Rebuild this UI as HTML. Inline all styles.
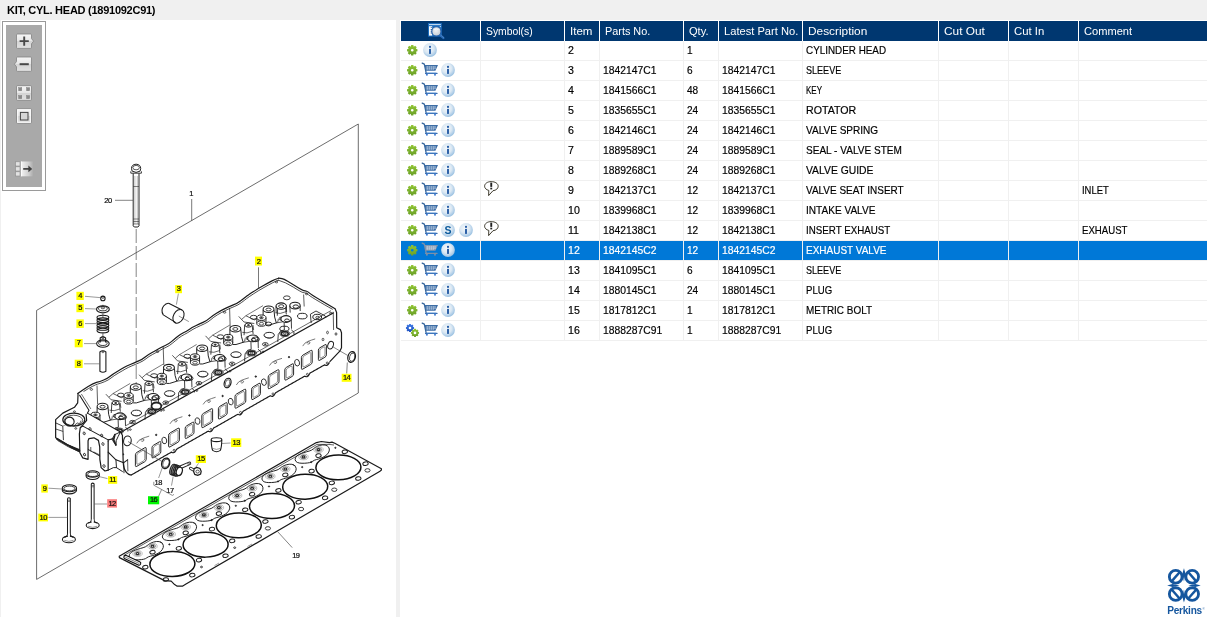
<!DOCTYPE html>
<html><head><meta charset="utf-8"><title>KIT, CYL. HEAD</title>
<style>
html,body{margin:0;padding:0;}
#title,#left,#hdr,.row,#logo{will-change:transform;}
body{width:1207px;height:617px;overflow:hidden;background:#f0f0f0;position:relative;font-family:"Liberation Sans",sans-serif;font-size:10.6px;color:#000;}
#title{position:absolute;left:6.7px;top:3px;font-weight:bold;font-size:11px;line-height:14px;white-space:nowrap;letter-spacing:-0.26px;}
#left{position:absolute;left:1px;top:20px;width:395px;height:597px;background:#fff;overflow:hidden;}
#left svg{position:absolute;left:-1px;top:-20px;}
#right{position:absolute;left:400px;top:20px;width:807px;height:597px;background:#fff;}
#hdr{position:absolute;left:0;top:21px;height:20px;width:1207px;}
.hc{position:absolute;top:0;height:20px;background:#003770;color:#fff;line-height:20px;white-space:nowrap;overflow:hidden;}
.hc span{position:absolute;left:5px;top:0;transform-origin:0 50%;}
.row{position:absolute;left:401px;width:806px;height:19px;border-bottom:1px solid #f0f0f0;}
.row.sel{background:#0078d7;color:#fff;}
.c{position:absolute;top:0;height:19px;border-right:1px solid #f0f0f0;line-height:19px;white-space:nowrap;overflow:hidden;}
.c:last-child{border-right:none;}
.c span{position:absolute;left:3px;top:0;-webkit-text-stroke:0.18px currentColor;transform-origin:0 50%;}
.ic{position:absolute;overflow:visible;}
#tb{position:absolute;left:2px;top:21px;width:42px;height:168px;border:1px solid #9a9a9a;background:#fff;}
#tb .in{position:absolute;left:3px;top:3px;width:36px;height:162px;background:#a9a9a9;}
.btn{position:absolute;left:14px;width:15px;height:15px;border-radius:2px;background:linear-gradient(#fafafa,#e4e4e4 45%,#d2d2d2 55%,#e6e6e6);box-shadow:0 0 0 0.5px #8a8a8a;}
#logo{position:absolute;left:1160px;top:562px;}

</style></head><body>
<svg width="0" height="0" style="position:absolute"><defs>
<linearGradient id="gg" x1="0" y1="0" x2="0" y2="1"><stop offset="0" stop-color="#90c534"/><stop offset="1" stop-color="#6a9f27"/></linearGradient>
<linearGradient id="gb" x1="0" y1="0" x2="0" y2="1"><stop offset="0" stop-color="#3f7be6"/><stop offset="1" stop-color="#1c4fc0"/></linearGradient>
<radialGradient id="ig" cx="0.42" cy="0.38" r="0.62"><stop offset="0" stop-color="#f3f8fc"/><stop offset="0.55" stop-color="#dbe8f3"/><stop offset="0.85" stop-color="#b3d0e9"/><stop offset="1" stop-color="#9cc2e2"/></radialGradient>
<radialGradient id="lg" cx="0.45" cy="0.4" r="0.6"><stop offset="0" stop-color="#eef1f4"/><stop offset="1" stop-color="#c5ccd4"/></radialGradient>
<symbol id="gear" overflow="visible"><g transform="translate(5.25 5.25)">
<path fill="url(#gg)" fill-rule="evenodd" d="M-1.50 -3.60 L-1.06 -5.20 L1.06 -5.20 L1.50 -3.60 L1.48 -3.61 L2.93 -4.43 L4.43 -2.93 L3.61 -1.48 L3.60 -1.50 L5.20 -1.06 L5.20 1.06 L3.60 1.50 L3.61 1.48 L4.43 2.93 L2.93 4.43 L1.48 3.61 L1.50 3.60 L1.06 5.20 L-1.06 5.20 L-1.50 3.60 L-1.48 3.61 L-2.93 4.43 L-4.43 2.93 L-3.61 1.48 L-3.60 1.50 L-5.20 1.06 L-5.20 -1.06 L-3.60 -1.50 L-3.61 -1.48 L-4.43 -2.93 L-2.93 -4.43 L-1.48 -3.61 Z M1.35 0 A1.35 1.35 0 1 0 -1.35 0 A1.35 1.35 0 1 0 1.35 0 Z"/>
</g></symbol>
<symbol id="gear2" overflow="visible">
<g transform="translate(6 6) scale(0.78)"><path fill="url(#gb)" fill-rule="evenodd" d="M-1.50 -3.60 L-1.06 -5.20 L1.06 -5.20 L1.50 -3.60 L1.48 -3.61 L2.93 -4.43 L4.43 -2.93 L3.61 -1.48 L3.60 -1.50 L5.20 -1.06 L5.20 1.06 L3.60 1.50 L3.61 1.48 L4.43 2.93 L2.93 4.43 L1.48 3.61 L1.50 3.60 L1.06 5.20 L-1.06 5.20 L-1.50 3.60 L-1.48 3.61 L-2.93 4.43 L-4.43 2.93 L-3.61 1.48 L-3.60 1.50 L-5.20 1.06 L-5.20 -1.06 L-3.60 -1.50 L-3.61 -1.48 L-4.43 -2.93 L-2.93 -4.43 L-1.48 -3.61 Z M1.70 0 A1.70 1.70 0 1 0 -1.70 0 A1.70 1.70 0 1 0 1.70 0 Z"/></g>
<g transform="translate(11 10.9) scale(0.78)"><path fill="url(#gg)" fill-rule="evenodd" d="M-1.50 -3.60 L-1.06 -5.20 L1.06 -5.20 L1.50 -3.60 L1.48 -3.61 L2.93 -4.43 L4.43 -2.93 L3.61 -1.48 L3.60 -1.50 L5.20 -1.06 L5.20 1.06 L3.60 1.50 L3.61 1.48 L4.43 2.93 L2.93 4.43 L1.48 3.61 L1.50 3.60 L1.06 5.20 L-1.06 5.20 L-1.50 3.60 L-1.48 3.61 L-2.93 4.43 L-4.43 2.93 L-3.61 1.48 L-3.60 1.50 L-5.20 1.06 L-5.20 -1.06 L-3.60 -1.50 L-3.61 -1.48 L-4.43 -2.93 L-2.93 -4.43 L-1.48 -3.61 Z M1.70 0 A1.70 1.70 0 1 0 -1.70 0 A1.70 1.70 0 1 0 1.70 0 Z"/></g>
</symbol>
<symbol id="cart" overflow="visible">
<path d="M0.2 1.1 L2.3 2.2 L4.3 11.6" fill="none" stroke="#38679e" stroke-width="1.3" stroke-linecap="round" stroke-linejoin="round"/>
<path d="M2.6 3 H16 L13.4 8.7 H4 Z" fill="#3c6ca4"/>
<path d="M3.8 4.2 H14.6 M4 5.9 H13.9 M4.3 7.5 H13.2" stroke="#3c6ca4" stroke-width="0.01"/>
<g fill="#e9f0f8"><rect x="4.6" y="4.3" width="1.1" height="3.3"/><rect x="6.6" y="4.3" width="1.1" height="3.3"/><rect x="8.6" y="4.3" width="1.1" height="3.3"/><rect x="10.6" y="4.3" width="1.1" height="3.3"/><rect x="12.5" y="4.3" width="1" height="2.8"/></g>
<path d="M4.1 5.9 H14.2" stroke="#3c6ca4" stroke-width="0.5"/>
<path d="M3.6 11.4 H15" stroke="#3a6db0" stroke-width="1.3" stroke-linecap="round"/>
<path d="M4.5 10.9 H14" stroke="#5aa0e8" stroke-width="0.5"/>
<circle cx="4.9" cy="12.7" r="0.95" fill="#3a78d0"/><circle cx="13" cy="12.7" r="0.95" fill="#3a78d0"/>
</symbol>
<symbol id="carts" overflow="visible">
<path d="M0.2 1.1 L2.3 2.2 L4.3 11.6" fill="none" stroke="#7b8fa8" stroke-width="1.3" stroke-linecap="round" stroke-linejoin="round"/>
<path d="M2.6 3 H16 L13.4 8.7 H4 Z" fill="#8296ae"/>
<g fill="#e4eaf2"><rect x="4.6" y="4.3" width="1.1" height="3.3"/><rect x="6.6" y="4.3" width="1.1" height="3.3"/><rect x="8.6" y="4.3" width="1.1" height="3.3"/><rect x="10.6" y="4.3" width="1.1" height="3.3"/><rect x="12.5" y="4.3" width="1" height="2.8"/></g>
<path d="M4.1 5.9 H14.2" stroke="#8296ae" stroke-width="0.5"/>
<path d="M3.6 11.4 H15" stroke="#7b8fa8" stroke-width="1.3" stroke-linecap="round"/>
<circle cx="4.9" cy="12.7" r="0.95" fill="#7b8fa8"/><circle cx="13" cy="12.7" r="0.95" fill="#7b8fa8"/>
</symbol>
<symbol id="info" overflow="visible">
<circle cx="7" cy="7" r="6.9" fill="url(#ig)"/>
<rect x="6" y="5.9" width="2" height="5" fill="#2d61a8"/><rect x="6" y="2.9" width="2" height="1.9" fill="#2d61a8"/>
</symbol>
<symbol id="sico" overflow="visible">
<circle cx="7" cy="7" r="6.9" fill="url(#ig)"/>
<text x="7" y="10.6" text-anchor="middle" font-family="Liberation Sans, sans-serif" font-weight="bold" font-size="10.5" fill="#0b5a9c">S</text>
</symbol>
<symbol id="bub" overflow="visible">
<path d="M7.2 0.6 C11.2 0.6 14.2 2.6 14.2 5.2 C14.2 7.6 12 9.4 9 9.7 L4.6 14.6 L4.8 9.4 C2.2 8.8 0.6 7.2 0.6 5.2 C0.6 2.6 3.4 0.6 7.2 0.6 Z" fill="#fff" stroke="#2a2718" stroke-width="0.9" stroke-linejoin="round"/>
<rect x="6.3" y="1.6" width="1.9" height="4.3" fill="#222"/><rect x="6.3" y="6.7" width="1.9" height="1.7" fill="#222"/>
</symbol>
<symbol id="mag" overflow="visible">
<rect x="0" y="0" width="13.8" height="13.6" fill="#1b6cbd"/>
<rect x="1" y="1.2" width="11.8" height="0.9" fill="#e8f2fb"/>
<rect x="1" y="3.2" width="3.2" height="9.4" fill="#f4f8fc"/>
<path d="M3.3 4.2 v0.9 M3.3 6 v0.9 M3.3 7.8 v0.9 M3.3 9.6 v0.9" stroke="#1b4f94" stroke-width="1.1"/>
<rect x="11.8" y="3.1" width="1" height="1" fill="#e8f2fb"/>
<path d="M11.6 11.6 L15.4 15" stroke="#2a6cb8" stroke-width="2.3" stroke-linecap="round"/>
<path d="M12.6 11.8 L15.6 14.4" stroke="#8fb8e6" stroke-width="0.6" stroke-dasharray="0.8 0.8"/>
<circle cx="8.4" cy="8.4" r="4.6" fill="url(#lg)" stroke="#235fa8" stroke-width="1.1"/>
<path d="M6.3 6.6 q2.2 -1.6 4.2 0" stroke="#fff" stroke-width="0.9" fill="none"/>
</symbol>
</defs></svg>
<div id="title">KIT, CYL. HEAD (1891092C91)</div>
<div id="left">
<svg width="397" height="617" viewBox="0 0 397 617">
<style>.lb{font-family:"Liberation Sans",sans-serif;font-size:7.5px;fill:#111;letter-spacing:-0.5px;stroke:#111;stroke-width:0.22px;}</style>
<path d="M36.6 310.4 L358.3 124 L358.3 393 L36.6 579.4 Z" fill="none" stroke="#3a3a3a" stroke-width="0.744" />
<path d="M131.5 168.5 q0 -4 4.6 -4.3 q4.6 0.3 4.6 4.3 l-0.6 2.6 q-4 2.6 -8 0 z" fill="none" stroke="#1a1a1a" stroke-width="0.96" />
<ellipse cx="136.1" cy="167.6" rx="3.3" ry="2.2" fill="none" stroke="#1a1a1a" stroke-width="0.72"/>
<path d="M130.8 171.3 L130.8 173.2 L141.4 173.2 L141.4 171.3" fill="none" stroke="#1a1a1a" stroke-width="0.84" />
<path d="M133.2 173.4 L133.2 225.8 L134.3 227 L137.9 227 L139 225.8 L139 173.4" fill="none" stroke="#1a1a1a" stroke-width="0.96" />
<line x1="134.9" y1="176" x2="134.9" y2="224" stroke="#777" stroke-width="0.48" />
<line x1="137.3" y1="176" x2="137.3" y2="224" stroke="#777" stroke-width="0.48" />
<line x1="133.2" y1="186.5" x2="139" y2="186.5" stroke="#333" stroke-width="0.6" />
<line x1="133.2" y1="219" x2="139" y2="219" stroke="#333" stroke-width="0.6" />
<line x1="133.2" y1="221.5" x2="139" y2="221.5" stroke="#333" stroke-width="0.6" />
<line x1="133.2" y1="224" x2="139" y2="224" stroke="#333" stroke-width="0.6" />
<line x1="115" y1="200.3" x2="133" y2="200.3" stroke="#555" stroke-width="0.72" />
<text x="104.3" y="203.2" class="lb">20</text>
<line x1="136.2" y1="229" x2="136.2" y2="384" stroke="#555" stroke-width="0.72" stroke-dasharray="14 3"/>
<text x="189.3" y="196" class="lb">1</text>
<line x1="191.7" y1="199" x2="191.7" y2="220.7" stroke="#444" stroke-width="0.72" />
<ellipse cx="102.9" cy="298.4" rx="2.2" ry="2.3" fill="none" stroke="#1a1a1a" stroke-width="1.08"/>
<ellipse cx="102.9" cy="297.6" rx="1.2" ry="0.8" fill="none" stroke="#1a1a1a" stroke-width="0.6"/>
<line x1="85" y1="296.3" x2="100" y2="297.6" stroke="#555" stroke-width="0.6" />
<ellipse cx="102.9" cy="309.3" rx="6.4" ry="3.6" fill="none" stroke="#1a1a1a" stroke-width="1.08"/>
<ellipse cx="102.9" cy="308.6" rx="4.4" ry="2.2" fill="none" stroke="#1a1a1a" stroke-width="0.84"/>
<ellipse cx="102.9" cy="307.8" rx="1.8" ry="1" fill="none" stroke="#1a1a1a" stroke-width="0.72"/>
<line x1="102.9" y1="304.8" x2="102.9" y2="307.5" stroke="#333" stroke-width="0.72" />
<line x1="85" y1="308.6" x2="96.3" y2="309" stroke="#555" stroke-width="0.6" />
<ellipse cx="102.9" cy="317.6" rx="5.9" ry="2.3" fill="none" stroke="#1a1a1a" stroke-width="1.08"/>
<ellipse cx="102.9" cy="320.2" rx="5.9" ry="2.3" fill="none" stroke="#1a1a1a" stroke-width="1.08"/>
<ellipse cx="102.9" cy="322.8" rx="5.9" ry="2.3" fill="none" stroke="#1a1a1a" stroke-width="1.08"/>
<ellipse cx="102.9" cy="325.4" rx="5.9" ry="2.3" fill="none" stroke="#1a1a1a" stroke-width="1.08"/>
<ellipse cx="102.9" cy="328" rx="5.9" ry="2.3" fill="none" stroke="#1a1a1a" stroke-width="1.08"/>
<ellipse cx="102.9" cy="330.6" rx="5.9" ry="2.3" fill="none" stroke="#1a1a1a" stroke-width="1.08"/>
<line x1="102.9" y1="313.8" x2="102.9" y2="318" stroke="#333" stroke-width="0.72" />
<line x1="85" y1="323.6" x2="96.5" y2="323.6" stroke="#555" stroke-width="0.6" />
<ellipse cx="102.9" cy="343.6" rx="6.3" ry="3.7" fill="none" stroke="#1a1a1a" stroke-width="1.08"/>
<ellipse cx="102.9" cy="343.2" rx="4.3" ry="2.3" fill="none" stroke="#1a1a1a" stroke-width="0.84"/>
<path d="M100.2 342.5 v-4.6 q2.7 -2 5.4 0 v4.6" fill="none" stroke="#1a1a1a" stroke-width="1.08" />
<ellipse cx="102.9" cy="337.6" rx="1.4" ry="0.9" fill="none" stroke="#1a1a1a" stroke-width="0.72"/>
<line x1="102.9" y1="333.4" x2="102.9" y2="336.5" stroke="#333" stroke-width="0.72" />
<line x1="84" y1="343.6" x2="96.3" y2="343.6" stroke="#555" stroke-width="0.6" />
<path d="M99.9 352 q3 -2.4 6 0 v19.3 q-3 2 -6 0 z" fill="none" stroke="#1a1a1a" stroke-width="1.08" />
<ellipse cx="102.9" cy="352" rx="1.2" ry="0.7" fill="none" stroke="#1a1a1a" stroke-width="0.6"/>
<line x1="84" y1="363.8" x2="99.8" y2="363.8" stroke="#555" stroke-width="0.6" />
<rect x="76.4" y="291.8" width="7.4" height="8.2" fill="#ffff00"/>
<text x="80.1" y="298.15" text-anchor="middle" class="lb">4</text>
<rect x="76.4" y="303.8" width="7.4" height="8.4" fill="#ffff00"/>
<text x="80.1" y="310.35" text-anchor="middle" class="lb">5</text>
<rect x="76.4" y="319.4" width="7.4" height="8.5" fill="#ffff00"/>
<text x="80.1" y="326.05" text-anchor="middle" class="lb">6</text>
<rect x="74.7" y="339" width="8" height="8.3" fill="#ffff00"/>
<text x="78.7" y="345.45" text-anchor="middle" class="lb">7</text>
<rect x="74.7" y="359.7" width="8" height="8.3" fill="#ffff00"/>
<text x="78.7" y="366.15" text-anchor="middle" class="lb">8</text>
<path d="M163.3 314.9 Q160.4 310.4 163.6 306 Q166.4 302.6 169.2 303.4 L182 310 M163.3 314.9 L175.8 322.6" fill="none" stroke="#1a1a1a" stroke-width="1.08" />
<ellipse cx="178.5" cy="316.3" rx="5" ry="7.3" fill="none" stroke="#1a1a1a" stroke-width="1.08" transform="rotate(28 178.5 316.3)"/>
<line x1="178.8" y1="316" x2="188.8" y2="321.6" stroke="#444" stroke-width="0.6" />
<line x1="178.4" y1="293.5" x2="176.4" y2="304.6" stroke="#555" stroke-width="0.6" />
<rect x="175.2" y="285.1" width="6.8" height="8.1" fill="#ffff00"/>
<text x="178.6" y="291.35" text-anchor="middle" class="lb">3</text>
<path d="M77.8 393.5 Q83 389.6 88.15 386.45 Q93.3 383.3 96.55 382.45 Q99.8 381.6 103.7 380 Q107.6 378.4 110.2 376.25 Q112.8 374.1 117.3 371.5 Q121.8 368.9 124.4 367.35 Q127 365.8 130.9 364.2 Q134.8 362.6 138.7 360.9 Q142.6 359.2 145.2 357 Q147.8 354.8 151.65 352.75 Q155.5 350.7 158.75 348.85 Q162 347 165.25 345.55 Q168.5 344.1 171.75 341.35 Q175 338.6 177.6 336.5 Q180.2 334.4 183.4 332.8 Q186.6 331.2 189.2 329.4 Q191.8 327.6 195.7 325.75 Q199.6 323.9 203.5 322.1 Q207.4 320.3 210 317.9 Q212.6 315.5 216.5 313.15 Q220.4 310.8 224.9 308.6 Q229.4 306.4 233.3 304.9 Q237.2 303.4 240.45 300.95 Q243.7 298.5 245.65 296.95 Q247.6 295.4 252.75 292.05 Q257.9 288.7 263.1 285.8 Q268.3 282.9 271.55 281.15 Q274.8 279.4 278.6 278.2 " fill="none" stroke="#1a1a1a" stroke-width="1.2" stroke-linejoin="round" stroke-linecap="round"/>
<path d="M278.6 278.2 Q282.5 278.6 284.3 279.4 Q286.1 280.2 294.2 285.35 Q302.3 290.5 303.75 290.7 Q305.2 290.9 306.55 291.25 Q307.9 291.6 309.55 293.15 Q311.2 294.7 321.1 300.5 Q331 306.3 334.7 308.5 " fill="none" stroke="#1a1a1a" stroke-width="1.2" stroke-linejoin="round" stroke-linecap="round"/>
<path d="M83.9 391.3 Q94.2 385 97.45 384.15 Q100.7 383.3 104.6 381.7 Q108.5 380.1 111.1 377.95 Q113.7 375.8 118.2 373.2 Q122.7 370.6 125.3 369.05 Q127.9 367.5 131.8 365.9 Q135.7 364.3 139.6 362.6 Q143.5 360.9 146.1 358.7 Q148.7 356.5 152.55 354.45 Q156.4 352.4 159.65 350.55 Q162.9 348.7 166.15 347.25 Q169.4 345.8 172.65 343.05 Q175.9 340.3 178.5 338.2 Q181.1 336.1 184.3 334.5 Q187.5 332.9 190.1 331.1 Q192.7 329.3 196.6 327.45 Q200.5 325.6 204.4 323.8 Q208.3 322 210.9 319.6 Q213.5 317.2 217.4 314.85 Q221.3 312.5 225.8 310.3 Q230.3 308.1 234.2 306.6 Q238.1 305.1 241.35 302.65 Q244.6 300.2 246.55 298.65 Q248.5 297.1 253.65 293.75 Q258.8 290.4 264 287.5 Q269.2 284.6 272.45 282.85 Q275.7 281.1 278.4 280.2 " fill="none" stroke="#1a1a1a" stroke-width="0.78" stroke-linejoin="round" stroke-linecap="round"/>
<path d="M278.4 280.2 Q285.3 282 293.4 287.15 Q301.5 292.3 302.95 292.5 Q304.4 292.7 305.75 293.05 Q307.1 293.4 308.75 294.95 Q310.4 296.5 320.3 302.3 Q330.2 308.1 332.4 309.2 " fill="none" stroke="#1a1a1a" stroke-width="0.78" stroke-linejoin="round" stroke-linecap="round"/>
<ellipse cx="91.4" cy="389.4" rx="1.2" ry="0.9" fill="none" stroke="#1a1a1a" stroke-width="0.72"/>
<ellipse cx="157.6" cy="351.6" rx="1.2" ry="0.9" fill="none" stroke="#1a1a1a" stroke-width="0.72"/>
<ellipse cx="224.6" cy="312.3" rx="1.2" ry="0.9" fill="none" stroke="#1a1a1a" stroke-width="0.72"/>
<ellipse cx="276.5" cy="282" rx="1.2" ry="0.9" fill="none" stroke="#1a1a1a" stroke-width="0.72"/>
<ellipse cx="306.6" cy="293.9" rx="1.2" ry="0.9" fill="none" stroke="#1a1a1a" stroke-width="0.72"/>
<ellipse cx="330.8" cy="313.2" rx="1.2" ry="0.9" fill="none" stroke="#1a1a1a" stroke-width="0.72"/>
<path d="M333.6 312.7 L121.2 431.9 L119.6 432.6" fill="none" stroke="#1a1a1a" stroke-width="1.2" stroke-linejoin="round"/>
<path d="M331 310.6 L126 425.6" fill="none" stroke="#333" stroke-width="0.72" stroke-linejoin="round"/>
<path d="M335 308.4 L336.6 312.5 L336.7 327.7 L340.4 329.6 L341.5 332.8 L341.5 347.8 L339.8 351.2 L329.6 361.9" fill="none" stroke="#1a1a1a" stroke-width="1.2" stroke-linejoin="round"/>
<path d="M333.2 311.8 L333.6 330" fill="none" stroke="#1a1a1a" stroke-width="0.72" stroke-linejoin="round"/>
<path d="M131 475.16 L131.5 474.88 L132 474.59 L132.5 474.31 L133 474.02 L133.5 473.74 L134 473.45 L134.5 473.17 L135 472.88 L135.5 472.6 L136 472.31 L136.5 472.03 L137 471.74 L137.5 471.46 L138 471.17 L138.5 470.89 L139 470.6 L139.5 470.32 L140 470.03 L140.5 469.75 L141 469.46 L141.5 469.18 L142 468.89 L142.5 468.61 L143 468.32 L143.5 468.04 L144 467.75 L144.5 467.47 L145 467.18 L145.5 466.9 L146 466.61 L146.5 466.33 L147 466.04 L147.5 465.76 L148 465.47 L148.5 465.19 L149 464.9 L149.5 464.62 L150 464.33 L150.5 464.05 L151 463.76 L151.5 463.48 L152 463.19 L152.5 462.91 L153 462.62 L153.5 462.34 L154 462.05 L154.5 461.77 L155 461.48 L155.5 461.2 L156 460.91 L156.5 460.63 L157 460.34 L157.5 460.06 L158 459.77 L158.5 459.49 L159 459.2 L159.5 458.92 L160 458.63 L160.5 458.35 L161 458.06 L161.5 457.78 L162 457.49 L162.5 457.21 L163 456.92 L163.5 456.64 L164 456.35 L164.5 456.07 L165 455.78 L165.5 455.5 L166 455.21 L166.5 454.93 L167 454.64 L167.5 454.36 L168 454.07 L168.5 453.79 L169 453.5 L169.5 453.22 L170 452.93 L170.5 452.65 L171 452.36 L171.5 452.08 L172 452.36 L172.5 452.59 L173 452.72 L173.5 452.72 L174 452.55 L174.5 452.21 L175 451.71 L175.5 451.06 L176 450.29 L176.5 449.46 L177 448.94 L177.5 448.66 L178 448.37 L178.5 448.09 L179 447.8 L179.5 447.52 L180 447.23 L180.5 446.95 L181 446.66 L181.5 446.38 L182 446.09 L182.5 445.81 L183 445.52 L183.5 445.24 L184 444.95 L184.5 444.67 L185 444.38 L185.5 444.1 L186 443.81 L186.5 443.53 L187 443.24 L187.5 442.96 L188 442.67 L188.5 442.39 L189 442.1 L189.5 441.82 L190 441.53 L190.5 441.25 L191 440.96 L191.5 440.68 L192 440.39 L192.5 440.11 L193 439.82 L193.5 439.54 L194 439.25 L194.5 438.97 L195 438.68 L195.5 438.4 L196 438.11 L196.5 437.83 L197 437.54 L197.5 437.26 L198 436.97 L198.5 436.69 L199 436.4 L199.5 436.12 L200 435.83 L200.5 435.55 L201 435.26 L201.5 434.98 L202 434.69 L202.5 434.41 L203 434.12 L203.5 433.84 L204 433.55 L204.5 433.27 L205 432.98 L205.5 432.7 L206 432.41 L206.5 432.13 L207 431.84 L207.5 431.56 L208 431.27 L208.5 431.22 L209 431.48 L209.5 431.68 L210 431.76 L210.5 431.69 L211 431.46 L211.5 431.06 L212 430.49 L212.5 429.79 L213 428.99 L213.5 428.14 L214 427.85 L214.5 427.57 L215 427.28 L215.5 427 L216 426.71 L216.5 426.43 L217 426.14 L217.5 425.86 L218 425.57 L218.5 425.29 L219 425 L219.5 424.72 L220 424.43 L220.5 424.15 L221 423.86 L221.5 423.58 L222 423.29 L222.5 423.01 L223 422.72 L223.5 422.44 L224 422.15 L224.5 421.87 L225 421.58 L225.5 421.3 L226 421.01 L226.5 420.73 L227 420.44 L227.5 420.16 L228 419.87 L228.5 419.59 L229 419.3 L229.5 419.02 L230 418.73 L230.5 418.45 L231 418.16 L231.5 417.88 L232 417.59 L232.5 417.31 L233 417.02 L233.5 416.74 L234 416.45 L234.5 416.17 L235 415.88 L235.5 415.6 L236 415.31 L236.5 415.03 L237 414.74 L237.5 414.46 L238 414.29 L238.5 414.56 L239 414.78 L239.5 414.88 L240 414.85 L240.5 414.65 L241 414.28 L241.5 413.74 L242 413.07 L242.5 412.28 L243 411.44 L243.5 411.04 L244 410.75 L244.5 410.47 L245 410.18 L245.5 409.9 L246 409.61 L246.5 409.33 L247 409.04 L247.5 408.76 L248 408.47 L248.5 408.19 L249 407.9 L249.5 407.62 L250 407.33 L250.5 407.05 L251 406.76 L251.5 406.48 L252 406.19 L252.5 405.91 L253 405.62 L253.5 405.34 L254 405.05 L254.5 404.77 L255 404.48 L255.5 404.2 L256 403.91 L256.5 403.63 L257 403.34 L257.5 403.06 L258 402.77 L258.5 402.49 L259 402.2 L259.5 401.92 L260 401.63 L260.5 401.35 L261 401.06 L261.5 400.78 L262 400.49 L262.5 400.21 L263 399.92 L263.5 399.64 L264 399.35 L264.5 399.07 L265 398.78 L265.5 398.5 L266 398.21 L266.5 397.93 L267 397.64 L267.5 397.36 L268 397.07 L268.5 396.79 L269 396.5 L269.5 396.22 L270 395.93 L270.5 395.76 L271 396.04 L271.5 396.25 L272 396.36 L272.5 396.32 L273 396.12 L273.5 395.75 L274 395.22 L274.5 394.54 L275 393.76 L275.5 392.91 L276 392.51 L276.5 392.23 L277 391.94 L277.5 391.66 L278 391.37 L278.5 391.09 L279 390.8 L279.5 390.52 L280 390.23 L280.5 389.95 L281 389.66 L281.5 389.38 L282 389.09 L282.5 388.81 L283 388.52 L283.5 388.24 L284 387.95 L284.5 387.67 L285 387.38 L285.5 387.1 L286 386.81 L286.5 386.53 L287 386.24 L287.5 385.96 L288 385.67 L288.5 385.39 L289 385.1 L289.5 384.82 L290 384.53 L290.5 384.25 L291 383.96 L291.5 383.68 L292 383.39 L292.5 383.11 L293 382.82 L293.5 382.54 L294 382.25 L294.5 381.97 L295 381.68 L295.5 381.4 L296 381.11 L296.5 380.83 L297 380.54 L297.5 380.26 L298 379.97 L298.5 379.69 L299 379.4 L299.5 379.12 L300 378.83 L300.5 378.55 L301 378.26 L301.5 377.98 L302 377.69 L302.5 377.41 L303 377.12 L303.5 376.84 L304 376.55 L304.5 376.27 L305 376.21 L305.5 376.48 L306 376.67 L306.5 376.75 L307 376.69 L307.5 376.46 L308 376.05 L308.5 375.48 L309 374.78 L309.5 373.98 L310 373.13 L310.5 372.85 L311 372.56 L311.5 372.28 L312 371.99 L312.5 371.71 L313 371.42 L313.5 371.14 L314 370.85 L314.5 370.57 L315 370.28 L315.5 370 L316 369.71 L316.5 369.43 L317 369.14 L317.5 368.86 L318 368.57 L318.5 368.29 L319 368 L319.5 367.72 L320 367.43 L320.5 367.15 L321 366.86 L321.5 366.58 L322 366.29 L322.5 366.01 L323 365.72 L323.5 365.44 L324 365.15 L324.5 364.87 L325 365.04 L325.5 365.28 L326 365.44 L326.5 365.46 L327 365.33 L327.5 365.03 L328 364.56 L328.5 363.93 L329 363.19 L329.5 362.36" fill="none" stroke="#1a1a1a" stroke-width="1.2" stroke-linejoin="round"/>
<ellipse cx="174.1" cy="450.3" rx="1" ry="1" fill="none" stroke="#1a1a1a" stroke-width="0.72"/>
<ellipse cx="210.9" cy="429.32" rx="1" ry="1" fill="none" stroke="#1a1a1a" stroke-width="0.72"/>
<ellipse cx="240.5" cy="412.45" rx="1" ry="1" fill="none" stroke="#1a1a1a" stroke-width="0.72"/>
<ellipse cx="273" cy="393.92" rx="1" ry="1" fill="none" stroke="#1a1a1a" stroke-width="0.72"/>
<ellipse cx="307.4" cy="374.32" rx="1" ry="1" fill="none" stroke="#1a1a1a" stroke-width="0.72"/>
<ellipse cx="327.2" cy="363.03" rx="1" ry="1" fill="none" stroke="#1a1a1a" stroke-width="0.72"/>
<path d="M135.4 454.76 Q135.4 453.26 136.9 452.38 L144.7 447.82 Q146.2 446.94 146.2 448.44 L146.2 459.34 Q146.2 460.84 144.7 461.72 L136.9 466.28 Q135.4 467.16 135.4 465.66 Z" fill="none" stroke="#1a1a1a" stroke-width="0.95"/>
<path d="M136.8 455.44 Q136.8 453.94 138.3 453.06 L143.3 450.14 Q144.8 449.26 144.8 450.76 L144.8 458.66 Q144.8 460.16 143.3 461.04 L138.3 463.96 Q136.8 464.84 136.8 463.34 Z" fill="none" stroke="#1a1a1a" stroke-width="0.5"/>
<path d="M152 447.63 Q152 446.13 153.5 445.25 L159.3 441.85 Q160.8 440.97 160.8 442.47 L160.8 451.87 Q160.8 453.37 159.3 454.25 L153.5 457.65 Q152 458.53 152 457.03 Z" fill="none" stroke="#1a1a1a" stroke-width="0.95"/>
<path d="M153.4 448.31 Q153.4 446.81 154.9 445.93 L157.9 444.17 Q159.4 443.29 159.4 444.79 L159.4 451.19 Q159.4 452.69 157.9 453.57 L154.9 455.33 Q153.4 456.21 153.4 454.71 Z" fill="none" stroke="#1a1a1a" stroke-width="0.5"/>
<ellipse cx="123" cy="454.35" rx="0.7" ry="0.7" fill="#333" stroke="#1a1a1a" stroke-width="0.84"/>
<path d="M136.7 443.35 q2 -3.6 5 -4.6 q3.4 -1.4 7.5 -2.6 M140.7 440.35 q2.4 -2.6 3.4 -0.6 q-0.4 2 -2.6 1.6" fill="none" stroke="#333" stroke-width="0.66" />
<path d="M168.6 435.31 Q168.6 433.81 170.1 432.93 L177.9 428.37 Q179.4 427.49 179.4 428.99 L179.4 439.89 Q179.4 441.39 177.9 442.27 L170.1 446.83 Q168.6 447.71 168.6 446.21 Z" fill="none" stroke="#1a1a1a" stroke-width="0.95"/>
<path d="M170 435.99 Q170 434.49 171.5 433.61 L176.5 430.69 Q178 429.81 178 431.31 L178 439.21 Q178 440.71 176.5 441.59 L171.5 444.51 Q170 445.39 170 443.89 Z" fill="none" stroke="#1a1a1a" stroke-width="0.5"/>
<path d="M185.2 428.18 Q185.2 426.68 186.7 425.8 L192.5 422.4 Q194 421.52 194 423.02 L194 432.42 Q194 433.92 192.5 434.8 L186.7 438.2 Q185.2 439.08 185.2 437.58 Z" fill="none" stroke="#1a1a1a" stroke-width="0.95"/>
<path d="M186.6 428.86 Q186.6 427.36 188.1 426.48 L191.1 424.72 Q192.6 423.84 192.6 425.34 L192.6 431.74 Q192.6 433.24 191.1 434.12 L188.1 435.88 Q186.6 436.76 186.6 435.26 Z" fill="none" stroke="#1a1a1a" stroke-width="0.5"/>
<ellipse cx="164.3" cy="440.5" rx="2.4" ry="3.3" fill="none" stroke="#1a1a1a" stroke-width="0.84" transform="rotate(-12 164.3 440.5)"/>
<ellipse cx="156.2" cy="434.9" rx="0.7" ry="0.7" fill="#333" stroke="#1a1a1a" stroke-width="0.84"/>
<path d="M169.9 423.9 q2 -3.6 5 -4.6 q3.4 -1.4 7.5 -2.6 M173.9 420.9 q2.4 -2.6 3.4 -0.6 q-0.4 2 -2.6 1.6" fill="none" stroke="#333" stroke-width="0.66" />
<path d="M201.8 415.86 Q201.8 414.36 203.3 413.48 L211.1 408.92 Q212.6 408.04 212.6 409.54 L212.6 420.44 Q212.6 421.94 211.1 422.82 L203.3 427.38 Q201.8 428.26 201.8 426.76 Z" fill="none" stroke="#1a1a1a" stroke-width="0.95"/>
<path d="M203.2 416.54 Q203.2 415.04 204.7 414.16 L209.7 411.24 Q211.2 410.36 211.2 411.86 L211.2 419.76 Q211.2 421.26 209.7 422.14 L204.7 425.06 Q203.2 425.94 203.2 424.44 Z" fill="none" stroke="#1a1a1a" stroke-width="0.5"/>
<path d="M218.4 408.73 Q218.4 407.23 219.9 406.35 L225.7 402.95 Q227.2 402.07 227.2 403.57 L227.2 412.97 Q227.2 414.47 225.7 415.35 L219.9 418.75 Q218.4 419.63 218.4 418.13 Z" fill="none" stroke="#1a1a1a" stroke-width="0.95"/>
<path d="M219.8 409.41 Q219.8 407.91 221.3 407.03 L224.3 405.27 Q225.8 404.39 225.8 405.89 L225.8 412.29 Q225.8 413.79 224.3 414.67 L221.3 416.43 Q219.8 417.31 219.8 415.81 Z" fill="none" stroke="#1a1a1a" stroke-width="0.5"/>
<ellipse cx="197.5" cy="421.05" rx="2.4" ry="3.3" fill="none" stroke="#1a1a1a" stroke-width="0.84" transform="rotate(-12 197.5 421.05)"/>
<ellipse cx="189.4" cy="415.45" rx="0.7" ry="0.7" fill="#333" stroke="#1a1a1a" stroke-width="0.84"/>
<path d="M203.1 404.45 q2 -3.6 5 -4.6 q3.4 -1.4 7.5 -2.6 M207.1 401.45 q2.4 -2.6 3.4 -0.6 q-0.4 2 -2.6 1.6" fill="none" stroke="#333" stroke-width="0.66" />
<path d="M235 396.41 Q235 394.91 236.5 394.03 L244.3 389.47 Q245.8 388.59 245.8 390.09 L245.8 400.99 Q245.8 402.49 244.3 403.37 L236.5 407.93 Q235 408.81 235 407.31 Z" fill="none" stroke="#1a1a1a" stroke-width="0.95"/>
<path d="M236.4 397.09 Q236.4 395.59 237.9 394.71 L242.9 391.79 Q244.4 390.91 244.4 392.41 L244.4 400.31 Q244.4 401.81 242.9 402.69 L237.9 405.61 Q236.4 406.49 236.4 404.99 Z" fill="none" stroke="#1a1a1a" stroke-width="0.5"/>
<path d="M251.6 389.28 Q251.6 387.78 253.1 386.9 L258.9 383.5 Q260.4 382.62 260.4 384.12 L260.4 393.52 Q260.4 395.02 258.9 395.9 L253.1 399.3 Q251.6 400.18 251.6 398.68 Z" fill="none" stroke="#1a1a1a" stroke-width="0.95"/>
<path d="M253 389.96 Q253 388.46 254.5 387.58 L257.5 385.82 Q259 384.94 259 386.44 L259 392.84 Q259 394.34 257.5 395.22 L254.5 396.98 Q253 397.86 253 396.36 Z" fill="none" stroke="#1a1a1a" stroke-width="0.5"/>
<ellipse cx="230.7" cy="401.6" rx="2.4" ry="3.3" fill="none" stroke="#1a1a1a" stroke-width="0.84" transform="rotate(-12 230.7 401.6)"/>
<ellipse cx="222.6" cy="396" rx="0.7" ry="0.7" fill="#333" stroke="#1a1a1a" stroke-width="0.84"/>
<path d="M236.3 385 q2 -3.6 5 -4.6 q3.4 -1.4 7.5 -2.6 M240.3 382 q2.4 -2.6 3.4 -0.6 q-0.4 2 -2.6 1.6" fill="none" stroke="#333" stroke-width="0.66" />
<path d="M268.2 376.96 Q268.2 375.46 269.7 374.58 L277.5 370.02 Q279 369.14 279 370.64 L279 381.54 Q279 383.04 277.5 383.92 L269.7 388.48 Q268.2 389.36 268.2 387.86 Z" fill="none" stroke="#1a1a1a" stroke-width="0.95"/>
<path d="M269.6 377.64 Q269.6 376.14 271.1 375.26 L276.1 372.34 Q277.6 371.46 277.6 372.96 L277.6 380.86 Q277.6 382.36 276.1 383.24 L271.1 386.16 Q269.6 387.04 269.6 385.54 Z" fill="none" stroke="#1a1a1a" stroke-width="0.5"/>
<path d="M284.8 369.83 Q284.8 368.33 286.3 367.45 L292.1 364.05 Q293.6 363.17 293.6 364.67 L293.6 374.07 Q293.6 375.57 292.1 376.45 L286.3 379.85 Q284.8 380.73 284.8 379.23 Z" fill="none" stroke="#1a1a1a" stroke-width="0.95"/>
<path d="M286.2 370.51 Q286.2 369.01 287.7 368.13 L290.7 366.37 Q292.2 365.49 292.2 366.99 L292.2 373.39 Q292.2 374.89 290.7 375.77 L287.7 377.53 Q286.2 378.41 286.2 376.91 Z" fill="none" stroke="#1a1a1a" stroke-width="0.5"/>
<ellipse cx="263.9" cy="382.15" rx="2.4" ry="3.3" fill="none" stroke="#1a1a1a" stroke-width="0.84" transform="rotate(-12 263.9 382.15)"/>
<ellipse cx="255.8" cy="376.55" rx="0.7" ry="0.7" fill="#333" stroke="#1a1a1a" stroke-width="0.84"/>
<path d="M269.5 365.55 q2 -3.6 5 -4.6 q3.4 -1.4 7.5 -2.6 M273.5 362.55 q2.4 -2.6 3.4 -0.6 q-0.4 2 -2.6 1.6" fill="none" stroke="#333" stroke-width="0.66" />
<path d="M301.4 357.51 Q301.4 356.01 302.9 355.13 L310.7 350.57 Q312.2 349.69 312.2 351.19 L312.2 362.09 Q312.2 363.59 310.7 364.47 L302.9 369.03 Q301.4 369.91 301.4 368.41 Z" fill="none" stroke="#1a1a1a" stroke-width="0.95"/>
<path d="M302.8 358.19 Q302.8 356.69 304.3 355.81 L309.3 352.89 Q310.8 352.01 310.8 353.51 L310.8 361.41 Q310.8 362.91 309.3 363.79 L304.3 366.71 Q302.8 367.59 302.8 366.09 Z" fill="none" stroke="#1a1a1a" stroke-width="0.5"/>
<path d="M318.4 350.14 Q318.4 348.64 319.9 347.76 L324.9 344.84 Q326.4 343.96 326.4 345.46 L326.4 354.86 Q326.4 356.36 324.9 357.24 L319.9 360.16 Q318.4 361.04 318.4 359.54 Z" fill="none" stroke="#1a1a1a" stroke-width="0.95"/>
<path d="M319.8 350.82 Q319.8 349.32 321.3 348.44 L323.5 347.16 Q325 346.28 325 347.78 L325 354.18 Q325 355.68 323.5 356.56 L321.3 357.84 Q319.8 358.72 319.8 357.22 Z" fill="none" stroke="#1a1a1a" stroke-width="0.5"/>
<ellipse cx="297.1" cy="362.7" rx="2.4" ry="3.3" fill="none" stroke="#1a1a1a" stroke-width="0.84" transform="rotate(-12 297.1 362.7)"/>
<ellipse cx="289" cy="357.1" rx="0.7" ry="0.7" fill="#333" stroke="#1a1a1a" stroke-width="0.84"/>
<path d="M302.7 346.1 q2 -3.6 5 -4.6 q3.4 -1.4 7.5 -2.6 M306.7 343.1 q2.4 -2.6 3.4 -0.6 q-0.4 2 -2.6 1.6" fill="none" stroke="#333" stroke-width="0.66" />
<ellipse cx="227.6" cy="383" rx="3.3" ry="4.8" fill="none" stroke="#1a1a1a" stroke-width="1.2" transform="rotate(18 227.6 383)"/>
<ellipse cx="227.6" cy="383" rx="2.1" ry="3.4" fill="none" stroke="#1a1a1a" stroke-width="0.6" transform="rotate(18 227.6 383)"/>
<ellipse cx="127.4" cy="440.9" rx="3.8" ry="4.9" fill="none" stroke="#1a1a1a" stroke-width="1.08" transform="rotate(10 127.4 440.9)"/>
<path d="M125.25 416.24 L125.51 425.96" fill="none" stroke="#1a1a1a" stroke-width="0.84" stroke-linejoin="round"/>
<path d="M118.12 419.48 L118.38 427.26" fill="none" stroke="#1a1a1a" stroke-width="0.84" stroke-linejoin="round"/>
<path d="M112.28 416.24 L112.02 418.83 L110.34 420.13" fill="none" stroke="#1a1a1a" stroke-width="0.72" stroke-linejoin="round"/>
<ellipse cx="115.52" cy="415.85" rx="2.33" ry="1.56" fill="#fff" stroke="#1a1a1a" stroke-width="0.84"/>
<ellipse cx="115.52" cy="415.85" rx="0.78" ry="0.52" fill="#333" stroke="#1a1a1a" stroke-width="0.72"/>
<ellipse cx="120.06" cy="416.24" rx="5.19" ry="3.37" fill="#fff" stroke="#1a1a1a" stroke-width="1.08"/>
<ellipse cx="120.97" cy="417.66" rx="2.33" ry="1.43" fill="none" stroke="#1a1a1a" stroke-width="0.96"/>
<path d="M110.34 420.13 L117.47 418.96" fill="none" stroke="#1a1a1a" stroke-width="0.72" stroke-linejoin="round"/>
<ellipse cx="103.2" cy="432.45" rx="5.19" ry="2.85" fill="#fff" stroke="#1a1a1a" stroke-width="0.96"/>
<path d="M98.27 433.36 Q103.2 437.38 108.13 433.36" fill="none" stroke="#333" stroke-width="0.72" />
<path d="M112.28 431.8 L111.76 439.19" fill="none" stroke="#1a1a1a" stroke-width="0.84" stroke-linejoin="round"/>
<path d="M112.15 431.8 L114.87 428.04 L118.25 427.26" fill="none" stroke="#1a1a1a" stroke-width="0.84" stroke-linejoin="round"/>
<path d="M125.25 427 L128.1 429.6 L127.84 431.41" fill="none" stroke="#1a1a1a" stroke-width="0.84" stroke-linejoin="round"/>
<ellipse cx="118.77" cy="430.89" rx="4.93" ry="2.85" fill="#fff" stroke="#1a1a1a" stroke-width="0.72"/>
<ellipse cx="118.77" cy="430.89" rx="3.5" ry="1.95" fill="none" stroke="#222" stroke-width="1.56"/>
<ellipse cx="118.77" cy="430.89" rx="1.43" ry="0.78" fill="none" stroke="#1a1a1a" stroke-width="0.72"/>
<ellipse cx="99.31" cy="441.53" rx="2.85" ry="1.69" fill="none" stroke="#1a1a1a" stroke-width="0.84"/>
<ellipse cx="99.31" cy="441.53" rx="0.78" ry="0.52" fill="#333" stroke="#1a1a1a" stroke-width="0.72"/>
<ellipse cx="97.11" cy="449.05" rx="1.04" ry="0.65" fill="none" stroke="#1a1a1a" stroke-width="0.72"/>
<ellipse cx="89.58" cy="436.6" rx="3.89" ry="2.33" fill="none" stroke="#1a1a1a" stroke-width="0.84"/>
<path d="M111.89 402.62 L111.24 412.99" fill="none" stroke="#1a1a1a" stroke-width="0.84" stroke-linejoin="round"/>
<path d="M119.41 403.4 L120.32 411.7" fill="none" stroke="#1a1a1a" stroke-width="0.84" stroke-linejoin="round"/>
<ellipse cx="115.65" cy="402.88" rx="3.5" ry="2.08" fill="#fff" stroke="#1a1a1a" stroke-width="0.96"/>
<ellipse cx="115.65" cy="403.01" rx="1.04" ry="0.65" fill="#333" stroke="#1a1a1a" stroke-width="0.72"/>
<ellipse cx="120.84" cy="395.09" rx="3.37" ry="1.95" fill="none" stroke="#1a1a1a" stroke-width="0.84"/>
<path d="M120.32 408.84 L114.23 410.66 L109.43 410.14" fill="none" stroke="#1a1a1a" stroke-width="0.66" stroke-linejoin="round"/>
<path d="M97.11 407.16 L97.11 414.94" fill="none" stroke="#1a1a1a" stroke-width="0.96" stroke-linejoin="round"/>
<path d="M108 407.16 L108.65 414.29 L110.34 420.13 L103.2 422.33 L99.96 422.33" fill="none" stroke="#1a1a1a" stroke-width="0.96" stroke-linejoin="round"/>
<ellipse cx="102.55" cy="406.51" rx="5.45" ry="3.24" fill="#fff" stroke="#1a1a1a" stroke-width="1.08"/>
<ellipse cx="102.55" cy="406.77" rx="2.59" ry="1.43" fill="none" stroke="#1a1a1a" stroke-width="0.84"/>
<path d="M90.88 414.94 L90.88 420.78" fill="none" stroke="#1a1a1a" stroke-width="0.96" stroke-linejoin="round"/>
<path d="M99.96 414.94 L99.96 420.78" fill="none" stroke="#1a1a1a" stroke-width="0.96" stroke-linejoin="round"/>
<ellipse cx="95.42" cy="420.78" rx="4.54" ry="2.72" fill="#fff" stroke="#1a1a1a" stroke-width="0.96"/>
<ellipse cx="95.42" cy="421.03" rx="2.33" ry="1.3" fill="none" stroke="#1a1a1a" stroke-width="0.72"/>
<ellipse cx="95.42" cy="414.94" rx="4.54" ry="2.72" fill="#fff" stroke="#1a1a1a" stroke-width="0.96"/>
<ellipse cx="95.42" cy="414.94" rx="1.82" ry="1.04" fill="none" stroke="#1a1a1a" stroke-width="0.72"/>
<ellipse cx="95.42" cy="414.94" rx="0.78" ry="0.45" fill="#333" stroke="#1a1a1a" stroke-width="0.72"/>
<path d="M105.92 394.19 L111.11 399.77 L121.49 401.33" fill="none" stroke="#1a1a1a" stroke-width="0.72" stroke-linejoin="round"/>
<path d="M113.06 393.54 L121.49 397.69 L123.69 396.66" fill="none" stroke="#1a1a1a" stroke-width="0.72" stroke-linejoin="round"/>
<path d="M113.06 393.54 L130.18 383.43" fill="none" stroke="#333" stroke-width="0.66" stroke-linejoin="round"/>
<path d="M120.19 402.88 L120.84 407.81" fill="none" stroke="#1a1a1a" stroke-width="0.72" stroke-linejoin="round"/>
<path d="M108.9 397.17 L113.06 393.54" fill="none" stroke="#1a1a1a" stroke-width="0.66" stroke-linejoin="round"/>
<path d="M158.45 396.79 L158.71 406.51" fill="none" stroke="#1a1a1a" stroke-width="0.84" stroke-linejoin="round"/>
<path d="M151.32 400.03 L151.58 407.81" fill="none" stroke="#1a1a1a" stroke-width="0.84" stroke-linejoin="round"/>
<path d="M145.48 396.79 L145.22 399.38 L143.54 400.68" fill="none" stroke="#1a1a1a" stroke-width="0.72" stroke-linejoin="round"/>
<ellipse cx="148.72" cy="396.4" rx="2.33" ry="1.56" fill="#fff" stroke="#1a1a1a" stroke-width="0.84"/>
<ellipse cx="148.72" cy="396.4" rx="0.78" ry="0.52" fill="#333" stroke="#1a1a1a" stroke-width="0.72"/>
<ellipse cx="153.26" cy="396.79" rx="5.19" ry="3.37" fill="#fff" stroke="#1a1a1a" stroke-width="1.08"/>
<ellipse cx="154.17" cy="398.21" rx="2.33" ry="1.43" fill="none" stroke="#1a1a1a" stroke-width="0.96"/>
<path d="M143.54 400.68 L150.67 399.51" fill="none" stroke="#1a1a1a" stroke-width="0.72" stroke-linejoin="round"/>
<ellipse cx="136.4" cy="413" rx="5.19" ry="2.85" fill="#fff" stroke="#1a1a1a" stroke-width="0.96"/>
<path d="M131.47 413.91 Q136.4 417.93 141.33 413.91" fill="none" stroke="#333" stroke-width="0.72" />
<path d="M145.48 412.35 L144.96 419.74" fill="none" stroke="#1a1a1a" stroke-width="0.84" stroke-linejoin="round"/>
<path d="M145.35 412.35 L148.07 408.59 L151.45 407.81" fill="none" stroke="#1a1a1a" stroke-width="0.84" stroke-linejoin="round"/>
<path d="M158.45 407.55 L161.3 410.15 L161.04 411.96" fill="none" stroke="#1a1a1a" stroke-width="0.84" stroke-linejoin="round"/>
<ellipse cx="151.97" cy="411.44" rx="4.93" ry="2.85" fill="#fff" stroke="#1a1a1a" stroke-width="0.72"/>
<ellipse cx="151.97" cy="411.44" rx="3.5" ry="1.95" fill="none" stroke="#222" stroke-width="1.56"/>
<ellipse cx="151.97" cy="411.44" rx="1.43" ry="0.78" fill="none" stroke="#1a1a1a" stroke-width="0.72"/>
<ellipse cx="132.51" cy="422.08" rx="2.85" ry="1.69" fill="none" stroke="#1a1a1a" stroke-width="0.84"/>
<ellipse cx="132.51" cy="422.08" rx="0.78" ry="0.52" fill="#333" stroke="#1a1a1a" stroke-width="0.72"/>
<ellipse cx="130.31" cy="429.6" rx="1.04" ry="0.65" fill="none" stroke="#1a1a1a" stroke-width="0.72"/>
<ellipse cx="122.78" cy="417.15" rx="3.89" ry="2.33" fill="none" stroke="#1a1a1a" stroke-width="0.84"/>
<path d="M145.09 383.17 L144.44 393.54" fill="none" stroke="#1a1a1a" stroke-width="0.84" stroke-linejoin="round"/>
<path d="M152.61 383.95 L153.52 392.25" fill="none" stroke="#1a1a1a" stroke-width="0.84" stroke-linejoin="round"/>
<ellipse cx="148.85" cy="383.43" rx="3.5" ry="2.08" fill="#fff" stroke="#1a1a1a" stroke-width="0.96"/>
<ellipse cx="148.85" cy="383.56" rx="1.04" ry="0.65" fill="#333" stroke="#1a1a1a" stroke-width="0.72"/>
<ellipse cx="154.04" cy="375.64" rx="3.37" ry="1.95" fill="none" stroke="#1a1a1a" stroke-width="0.84"/>
<path d="M153.52 389.39 L147.43 391.21 L142.63 390.69" fill="none" stroke="#1a1a1a" stroke-width="0.66" stroke-linejoin="round"/>
<path d="M130.31 387.71 L130.31 395.49" fill="none" stroke="#1a1a1a" stroke-width="0.96" stroke-linejoin="round"/>
<path d="M141.2 387.71 L141.85 394.84 L143.54 400.68 L136.4 402.88 L133.16 402.88" fill="none" stroke="#1a1a1a" stroke-width="0.96" stroke-linejoin="round"/>
<ellipse cx="135.75" cy="387.06" rx="5.45" ry="3.24" fill="#fff" stroke="#1a1a1a" stroke-width="1.08"/>
<ellipse cx="135.75" cy="387.32" rx="2.59" ry="1.43" fill="none" stroke="#1a1a1a" stroke-width="0.84"/>
<path d="M124.08 395.49 L124.08 401.33" fill="none" stroke="#1a1a1a" stroke-width="0.96" stroke-linejoin="round"/>
<path d="M133.16 395.49 L133.16 401.33" fill="none" stroke="#1a1a1a" stroke-width="0.96" stroke-linejoin="round"/>
<ellipse cx="128.62" cy="401.33" rx="4.54" ry="2.72" fill="#fff" stroke="#1a1a1a" stroke-width="0.96"/>
<ellipse cx="128.62" cy="401.58" rx="2.33" ry="1.3" fill="none" stroke="#1a1a1a" stroke-width="0.72"/>
<ellipse cx="128.62" cy="395.49" rx="4.54" ry="2.72" fill="#fff" stroke="#1a1a1a" stroke-width="0.96"/>
<ellipse cx="128.62" cy="395.49" rx="1.82" ry="1.04" fill="none" stroke="#1a1a1a" stroke-width="0.72"/>
<ellipse cx="128.62" cy="395.49" rx="0.78" ry="0.45" fill="#333" stroke="#1a1a1a" stroke-width="0.72"/>
<path d="M139.12 374.74 L144.31 380.32 L154.69 381.88" fill="none" stroke="#1a1a1a" stroke-width="0.72" stroke-linejoin="round"/>
<path d="M146.26 374.09 L154.69 378.24 L156.89 377.21" fill="none" stroke="#1a1a1a" stroke-width="0.72" stroke-linejoin="round"/>
<path d="M146.26 374.09 L163.38 363.98" fill="none" stroke="#333" stroke-width="0.66" stroke-linejoin="round"/>
<path d="M153.39 383.43 L154.04 388.36" fill="none" stroke="#1a1a1a" stroke-width="0.72" stroke-linejoin="round"/>
<path d="M142.1 377.72 L146.26 374.09" fill="none" stroke="#1a1a1a" stroke-width="0.66" stroke-linejoin="round"/>
<path d="M191.65 377.34 L191.91 387.06" fill="none" stroke="#1a1a1a" stroke-width="0.84" stroke-linejoin="round"/>
<path d="M184.52 380.58 L184.78 388.36" fill="none" stroke="#1a1a1a" stroke-width="0.84" stroke-linejoin="round"/>
<path d="M178.68 377.34 L178.42 379.93 L176.74 381.23" fill="none" stroke="#1a1a1a" stroke-width="0.72" stroke-linejoin="round"/>
<ellipse cx="181.92" cy="376.95" rx="2.33" ry="1.56" fill="#fff" stroke="#1a1a1a" stroke-width="0.84"/>
<ellipse cx="181.92" cy="376.95" rx="0.78" ry="0.52" fill="#333" stroke="#1a1a1a" stroke-width="0.72"/>
<ellipse cx="186.46" cy="377.34" rx="5.19" ry="3.37" fill="#fff" stroke="#1a1a1a" stroke-width="1.08"/>
<ellipse cx="187.37" cy="378.76" rx="2.33" ry="1.43" fill="none" stroke="#1a1a1a" stroke-width="0.96"/>
<path d="M176.74 381.23 L183.87 380.06" fill="none" stroke="#1a1a1a" stroke-width="0.72" stroke-linejoin="round"/>
<ellipse cx="169.6" cy="393.55" rx="5.19" ry="2.85" fill="#fff" stroke="#1a1a1a" stroke-width="0.96"/>
<path d="M164.67 394.46 Q169.6 398.48 174.53 394.46" fill="none" stroke="#333" stroke-width="0.72" />
<path d="M178.68 392.9 L178.16 400.29" fill="none" stroke="#1a1a1a" stroke-width="0.84" stroke-linejoin="round"/>
<path d="M178.55 392.9 L181.27 389.14 L184.65 388.36" fill="none" stroke="#1a1a1a" stroke-width="0.84" stroke-linejoin="round"/>
<path d="M191.65 388.1 L194.5 390.7 L194.24 392.51" fill="none" stroke="#1a1a1a" stroke-width="0.84" stroke-linejoin="round"/>
<ellipse cx="185.17" cy="391.99" rx="4.93" ry="2.85" fill="#fff" stroke="#1a1a1a" stroke-width="0.72"/>
<ellipse cx="185.17" cy="391.99" rx="3.5" ry="1.95" fill="none" stroke="#222" stroke-width="1.56"/>
<ellipse cx="185.17" cy="391.99" rx="1.43" ry="0.78" fill="none" stroke="#1a1a1a" stroke-width="0.72"/>
<ellipse cx="165.71" cy="402.63" rx="2.85" ry="1.69" fill="none" stroke="#1a1a1a" stroke-width="0.84"/>
<ellipse cx="165.71" cy="402.63" rx="0.78" ry="0.52" fill="#333" stroke="#1a1a1a" stroke-width="0.72"/>
<ellipse cx="163.51" cy="410.15" rx="1.04" ry="0.65" fill="none" stroke="#1a1a1a" stroke-width="0.72"/>
<ellipse cx="155.98" cy="397.7" rx="3.89" ry="2.33" fill="none" stroke="#1a1a1a" stroke-width="0.84"/>
<path d="M178.29 363.72 L177.64 374.09" fill="none" stroke="#1a1a1a" stroke-width="0.84" stroke-linejoin="round"/>
<path d="M185.81 364.5 L186.72 372.8" fill="none" stroke="#1a1a1a" stroke-width="0.84" stroke-linejoin="round"/>
<ellipse cx="182.05" cy="363.98" rx="3.5" ry="2.08" fill="#fff" stroke="#1a1a1a" stroke-width="0.96"/>
<ellipse cx="182.05" cy="364.11" rx="1.04" ry="0.65" fill="#333" stroke="#1a1a1a" stroke-width="0.72"/>
<ellipse cx="187.24" cy="356.19" rx="3.37" ry="1.95" fill="none" stroke="#1a1a1a" stroke-width="0.84"/>
<path d="M186.72 369.94 L180.63 371.76 L175.83 371.24" fill="none" stroke="#1a1a1a" stroke-width="0.66" stroke-linejoin="round"/>
<path d="M163.51 368.26 L163.51 376.04" fill="none" stroke="#1a1a1a" stroke-width="0.96" stroke-linejoin="round"/>
<path d="M174.4 368.26 L175.05 375.39 L176.74 381.23 L169.6 383.43 L166.36 383.43" fill="none" stroke="#1a1a1a" stroke-width="0.96" stroke-linejoin="round"/>
<ellipse cx="168.95" cy="367.61" rx="5.45" ry="3.24" fill="#fff" stroke="#1a1a1a" stroke-width="1.08"/>
<ellipse cx="168.95" cy="367.87" rx="2.59" ry="1.43" fill="none" stroke="#1a1a1a" stroke-width="0.84"/>
<path d="M157.28 376.04 L157.28 381.88" fill="none" stroke="#1a1a1a" stroke-width="0.96" stroke-linejoin="round"/>
<path d="M166.36 376.04 L166.36 381.88" fill="none" stroke="#1a1a1a" stroke-width="0.96" stroke-linejoin="round"/>
<ellipse cx="161.82" cy="381.88" rx="4.54" ry="2.72" fill="#fff" stroke="#1a1a1a" stroke-width="0.96"/>
<ellipse cx="161.82" cy="382.13" rx="2.33" ry="1.3" fill="none" stroke="#1a1a1a" stroke-width="0.72"/>
<ellipse cx="161.82" cy="376.04" rx="4.54" ry="2.72" fill="#fff" stroke="#1a1a1a" stroke-width="0.96"/>
<ellipse cx="161.82" cy="376.04" rx="1.82" ry="1.04" fill="none" stroke="#1a1a1a" stroke-width="0.72"/>
<ellipse cx="161.82" cy="376.04" rx="0.78" ry="0.45" fill="#333" stroke="#1a1a1a" stroke-width="0.72"/>
<path d="M172.32 355.29 L177.51 360.87 L187.89 362.43" fill="none" stroke="#1a1a1a" stroke-width="0.72" stroke-linejoin="round"/>
<path d="M179.46 354.64 L187.89 358.79 L190.09 357.76" fill="none" stroke="#1a1a1a" stroke-width="0.72" stroke-linejoin="round"/>
<path d="M179.46 354.64 L196.58 344.53" fill="none" stroke="#333" stroke-width="0.66" stroke-linejoin="round"/>
<path d="M186.59 363.98 L187.24 368.91" fill="none" stroke="#1a1a1a" stroke-width="0.72" stroke-linejoin="round"/>
<path d="M175.3 358.27 L179.46 354.64" fill="none" stroke="#1a1a1a" stroke-width="0.66" stroke-linejoin="round"/>
<path d="M224.85 357.89 L225.11 367.61" fill="none" stroke="#1a1a1a" stroke-width="0.84" stroke-linejoin="round"/>
<path d="M217.72 361.13 L217.98 368.91" fill="none" stroke="#1a1a1a" stroke-width="0.84" stroke-linejoin="round"/>
<path d="M211.88 357.89 L211.62 360.48 L209.94 361.78" fill="none" stroke="#1a1a1a" stroke-width="0.72" stroke-linejoin="round"/>
<ellipse cx="215.12" cy="357.5" rx="2.33" ry="1.56" fill="#fff" stroke="#1a1a1a" stroke-width="0.84"/>
<ellipse cx="215.12" cy="357.5" rx="0.78" ry="0.52" fill="#333" stroke="#1a1a1a" stroke-width="0.72"/>
<ellipse cx="219.66" cy="357.89" rx="5.19" ry="3.37" fill="#fff" stroke="#1a1a1a" stroke-width="1.08"/>
<ellipse cx="220.57" cy="359.31" rx="2.33" ry="1.43" fill="none" stroke="#1a1a1a" stroke-width="0.96"/>
<path d="M209.94 361.78 L217.07 360.61" fill="none" stroke="#1a1a1a" stroke-width="0.72" stroke-linejoin="round"/>
<ellipse cx="202.8" cy="374.1" rx="5.19" ry="2.85" fill="#fff" stroke="#1a1a1a" stroke-width="0.96"/>
<path d="M197.87 375.01 Q202.8 379.03 207.73 375.01" fill="none" stroke="#333" stroke-width="0.72" />
<path d="M211.88 373.45 L211.36 380.84" fill="none" stroke="#1a1a1a" stroke-width="0.84" stroke-linejoin="round"/>
<path d="M211.75 373.45 L214.47 369.69 L217.85 368.91" fill="none" stroke="#1a1a1a" stroke-width="0.84" stroke-linejoin="round"/>
<path d="M224.85 368.65 L227.7 371.25 L227.44 373.06" fill="none" stroke="#1a1a1a" stroke-width="0.84" stroke-linejoin="round"/>
<ellipse cx="218.37" cy="372.54" rx="4.93" ry="2.85" fill="#fff" stroke="#1a1a1a" stroke-width="0.72"/>
<ellipse cx="218.37" cy="372.54" rx="3.5" ry="1.95" fill="none" stroke="#222" stroke-width="1.56"/>
<ellipse cx="218.37" cy="372.54" rx="1.43" ry="0.78" fill="none" stroke="#1a1a1a" stroke-width="0.72"/>
<ellipse cx="198.91" cy="383.18" rx="2.85" ry="1.69" fill="none" stroke="#1a1a1a" stroke-width="0.84"/>
<ellipse cx="198.91" cy="383.18" rx="0.78" ry="0.52" fill="#333" stroke="#1a1a1a" stroke-width="0.72"/>
<ellipse cx="196.71" cy="390.7" rx="1.04" ry="0.65" fill="none" stroke="#1a1a1a" stroke-width="0.72"/>
<ellipse cx="189.18" cy="378.25" rx="3.89" ry="2.33" fill="none" stroke="#1a1a1a" stroke-width="0.84"/>
<path d="M211.49 344.27 L210.84 354.64" fill="none" stroke="#1a1a1a" stroke-width="0.84" stroke-linejoin="round"/>
<path d="M219.01 345.05 L219.92 353.35" fill="none" stroke="#1a1a1a" stroke-width="0.84" stroke-linejoin="round"/>
<ellipse cx="215.25" cy="344.53" rx="3.5" ry="2.08" fill="#fff" stroke="#1a1a1a" stroke-width="0.96"/>
<ellipse cx="215.25" cy="344.66" rx="1.04" ry="0.65" fill="#333" stroke="#1a1a1a" stroke-width="0.72"/>
<ellipse cx="220.44" cy="336.74" rx="3.37" ry="1.95" fill="none" stroke="#1a1a1a" stroke-width="0.84"/>
<path d="M219.92 350.49 L213.83 352.31 L209.03 351.79" fill="none" stroke="#1a1a1a" stroke-width="0.66" stroke-linejoin="round"/>
<path d="M196.71 348.81 L196.71 356.59" fill="none" stroke="#1a1a1a" stroke-width="0.96" stroke-linejoin="round"/>
<path d="M207.6 348.81 L208.25 355.94 L209.94 361.78 L202.8 363.98 L199.56 363.98" fill="none" stroke="#1a1a1a" stroke-width="0.96" stroke-linejoin="round"/>
<ellipse cx="202.15" cy="348.16" rx="5.45" ry="3.24" fill="#fff" stroke="#1a1a1a" stroke-width="1.08"/>
<ellipse cx="202.15" cy="348.42" rx="2.59" ry="1.43" fill="none" stroke="#1a1a1a" stroke-width="0.84"/>
<path d="M190.48 356.59 L190.48 362.43" fill="none" stroke="#1a1a1a" stroke-width="0.96" stroke-linejoin="round"/>
<path d="M199.56 356.59 L199.56 362.43" fill="none" stroke="#1a1a1a" stroke-width="0.96" stroke-linejoin="round"/>
<ellipse cx="195.02" cy="362.43" rx="4.54" ry="2.72" fill="#fff" stroke="#1a1a1a" stroke-width="0.96"/>
<ellipse cx="195.02" cy="362.68" rx="2.33" ry="1.3" fill="none" stroke="#1a1a1a" stroke-width="0.72"/>
<ellipse cx="195.02" cy="356.59" rx="4.54" ry="2.72" fill="#fff" stroke="#1a1a1a" stroke-width="0.96"/>
<ellipse cx="195.02" cy="356.59" rx="1.82" ry="1.04" fill="none" stroke="#1a1a1a" stroke-width="0.72"/>
<ellipse cx="195.02" cy="356.59" rx="0.78" ry="0.45" fill="#333" stroke="#1a1a1a" stroke-width="0.72"/>
<path d="M205.52 335.84 L210.71 341.42 L221.09 342.98" fill="none" stroke="#1a1a1a" stroke-width="0.72" stroke-linejoin="round"/>
<path d="M212.66 335.19 L221.09 339.34 L223.29 338.31" fill="none" stroke="#1a1a1a" stroke-width="0.72" stroke-linejoin="round"/>
<path d="M212.66 335.19 L229.78 325.08" fill="none" stroke="#333" stroke-width="0.66" stroke-linejoin="round"/>
<path d="M219.79 344.53 L220.44 349.46" fill="none" stroke="#1a1a1a" stroke-width="0.72" stroke-linejoin="round"/>
<path d="M208.5 338.82 L212.66 335.19" fill="none" stroke="#1a1a1a" stroke-width="0.66" stroke-linejoin="round"/>
<path d="M258.05 338.44 L258.31 348.16" fill="none" stroke="#1a1a1a" stroke-width="0.84" stroke-linejoin="round"/>
<path d="M250.92 341.68 L251.18 349.46" fill="none" stroke="#1a1a1a" stroke-width="0.84" stroke-linejoin="round"/>
<path d="M245.08 338.44 L244.82 341.03 L243.14 342.33" fill="none" stroke="#1a1a1a" stroke-width="0.72" stroke-linejoin="round"/>
<ellipse cx="248.32" cy="338.05" rx="2.33" ry="1.56" fill="#fff" stroke="#1a1a1a" stroke-width="0.84"/>
<ellipse cx="248.32" cy="338.05" rx="0.78" ry="0.52" fill="#333" stroke="#1a1a1a" stroke-width="0.72"/>
<ellipse cx="252.86" cy="338.44" rx="5.19" ry="3.37" fill="#fff" stroke="#1a1a1a" stroke-width="1.08"/>
<ellipse cx="253.77" cy="339.86" rx="2.33" ry="1.43" fill="none" stroke="#1a1a1a" stroke-width="0.96"/>
<path d="M243.14 342.33 L250.27 341.16" fill="none" stroke="#1a1a1a" stroke-width="0.72" stroke-linejoin="round"/>
<ellipse cx="236" cy="354.65" rx="5.19" ry="2.85" fill="#fff" stroke="#1a1a1a" stroke-width="0.96"/>
<path d="M231.07 355.56 Q236 359.58 240.93 355.56" fill="none" stroke="#333" stroke-width="0.72" />
<path d="M245.08 354 L244.56 361.39" fill="none" stroke="#1a1a1a" stroke-width="0.84" stroke-linejoin="round"/>
<path d="M244.95 354 L247.67 350.24 L251.05 349.46" fill="none" stroke="#1a1a1a" stroke-width="0.84" stroke-linejoin="round"/>
<path d="M258.05 349.2 L260.9 351.8 L260.64 353.61" fill="none" stroke="#1a1a1a" stroke-width="0.84" stroke-linejoin="round"/>
<ellipse cx="251.57" cy="353.09" rx="4.93" ry="2.85" fill="#fff" stroke="#1a1a1a" stroke-width="0.72"/>
<ellipse cx="251.57" cy="353.09" rx="3.5" ry="1.95" fill="none" stroke="#222" stroke-width="1.56"/>
<ellipse cx="251.57" cy="353.09" rx="1.43" ry="0.78" fill="none" stroke="#1a1a1a" stroke-width="0.72"/>
<ellipse cx="232.11" cy="363.73" rx="2.85" ry="1.69" fill="none" stroke="#1a1a1a" stroke-width="0.84"/>
<ellipse cx="232.11" cy="363.73" rx="0.78" ry="0.52" fill="#333" stroke="#1a1a1a" stroke-width="0.72"/>
<ellipse cx="229.91" cy="371.25" rx="1.04" ry="0.65" fill="none" stroke="#1a1a1a" stroke-width="0.72"/>
<ellipse cx="222.38" cy="358.8" rx="3.89" ry="2.33" fill="none" stroke="#1a1a1a" stroke-width="0.84"/>
<path d="M244.69 324.82 L244.04 335.19" fill="none" stroke="#1a1a1a" stroke-width="0.84" stroke-linejoin="round"/>
<path d="M252.21 325.6 L253.12 333.9" fill="none" stroke="#1a1a1a" stroke-width="0.84" stroke-linejoin="round"/>
<ellipse cx="248.45" cy="325.08" rx="3.5" ry="2.08" fill="#fff" stroke="#1a1a1a" stroke-width="0.96"/>
<ellipse cx="248.45" cy="325.21" rx="1.04" ry="0.65" fill="#333" stroke="#1a1a1a" stroke-width="0.72"/>
<ellipse cx="253.64" cy="317.29" rx="3.37" ry="1.95" fill="none" stroke="#1a1a1a" stroke-width="0.84"/>
<path d="M253.12 331.04 L247.03 332.86 L242.23 332.34" fill="none" stroke="#1a1a1a" stroke-width="0.66" stroke-linejoin="round"/>
<path d="M229.91 329.36 L229.91 337.14" fill="none" stroke="#1a1a1a" stroke-width="0.96" stroke-linejoin="round"/>
<path d="M240.8 329.36 L241.45 336.49 L243.14 342.33 L236 344.53 L232.76 344.53" fill="none" stroke="#1a1a1a" stroke-width="0.96" stroke-linejoin="round"/>
<ellipse cx="235.35" cy="328.71" rx="5.45" ry="3.24" fill="#fff" stroke="#1a1a1a" stroke-width="1.08"/>
<ellipse cx="235.35" cy="328.97" rx="2.59" ry="1.43" fill="none" stroke="#1a1a1a" stroke-width="0.84"/>
<path d="M223.68 337.14 L223.68 342.98" fill="none" stroke="#1a1a1a" stroke-width="0.96" stroke-linejoin="round"/>
<path d="M232.76 337.14 L232.76 342.98" fill="none" stroke="#1a1a1a" stroke-width="0.96" stroke-linejoin="round"/>
<ellipse cx="228.22" cy="342.98" rx="4.54" ry="2.72" fill="#fff" stroke="#1a1a1a" stroke-width="0.96"/>
<ellipse cx="228.22" cy="343.23" rx="2.33" ry="1.3" fill="none" stroke="#1a1a1a" stroke-width="0.72"/>
<ellipse cx="228.22" cy="337.14" rx="4.54" ry="2.72" fill="#fff" stroke="#1a1a1a" stroke-width="0.96"/>
<ellipse cx="228.22" cy="337.14" rx="1.82" ry="1.04" fill="none" stroke="#1a1a1a" stroke-width="0.72"/>
<ellipse cx="228.22" cy="337.14" rx="0.78" ry="0.45" fill="#333" stroke="#1a1a1a" stroke-width="0.72"/>
<path d="M238.72 316.39 L243.91 321.97 L254.29 323.53" fill="none" stroke="#1a1a1a" stroke-width="0.72" stroke-linejoin="round"/>
<path d="M245.86 315.74 L254.29 319.89 L256.49 318.86" fill="none" stroke="#1a1a1a" stroke-width="0.72" stroke-linejoin="round"/>
<path d="M245.86 315.74 L262.98 305.63" fill="none" stroke="#333" stroke-width="0.66" stroke-linejoin="round"/>
<path d="M252.99 325.08 L253.64 330.01" fill="none" stroke="#1a1a1a" stroke-width="0.72" stroke-linejoin="round"/>
<path d="M241.7 319.37 L245.86 315.74" fill="none" stroke="#1a1a1a" stroke-width="0.66" stroke-linejoin="round"/>
<path d="M291.25 318.99 L291.51 328.71" fill="none" stroke="#1a1a1a" stroke-width="0.84" stroke-linejoin="round"/>
<path d="M284.12 322.23 L284.38 330.01" fill="none" stroke="#1a1a1a" stroke-width="0.84" stroke-linejoin="round"/>
<path d="M278.28 318.99 L278.02 321.58 L276.34 322.88" fill="none" stroke="#1a1a1a" stroke-width="0.72" stroke-linejoin="round"/>
<ellipse cx="281.52" cy="318.6" rx="2.33" ry="1.56" fill="#fff" stroke="#1a1a1a" stroke-width="0.84"/>
<ellipse cx="281.52" cy="318.6" rx="0.78" ry="0.52" fill="#333" stroke="#1a1a1a" stroke-width="0.72"/>
<ellipse cx="286.06" cy="318.99" rx="5.19" ry="3.37" fill="#fff" stroke="#1a1a1a" stroke-width="1.08"/>
<ellipse cx="286.97" cy="320.41" rx="2.33" ry="1.43" fill="none" stroke="#1a1a1a" stroke-width="0.96"/>
<path d="M276.34 322.88 L283.47 321.71" fill="none" stroke="#1a1a1a" stroke-width="0.72" stroke-linejoin="round"/>
<ellipse cx="269.2" cy="335.2" rx="5.19" ry="2.85" fill="#fff" stroke="#1a1a1a" stroke-width="0.96"/>
<path d="M264.27 336.11 Q269.2 340.13 274.13 336.11" fill="none" stroke="#333" stroke-width="0.72" />
<path d="M278.28 334.55 L277.76 341.94" fill="none" stroke="#1a1a1a" stroke-width="0.84" stroke-linejoin="round"/>
<path d="M278.15 334.55 L280.87 330.79 L284.25 330.01" fill="none" stroke="#1a1a1a" stroke-width="0.84" stroke-linejoin="round"/>
<path d="M291.25 329.75 L294.1 332.35 L293.84 334.16" fill="none" stroke="#1a1a1a" stroke-width="0.84" stroke-linejoin="round"/>
<ellipse cx="284.77" cy="333.64" rx="4.93" ry="2.85" fill="#fff" stroke="#1a1a1a" stroke-width="0.72"/>
<ellipse cx="284.77" cy="333.64" rx="3.5" ry="1.95" fill="none" stroke="#222" stroke-width="1.56"/>
<ellipse cx="284.77" cy="333.64" rx="1.43" ry="0.78" fill="none" stroke="#1a1a1a" stroke-width="0.72"/>
<ellipse cx="265.31" cy="344.28" rx="2.85" ry="1.69" fill="none" stroke="#1a1a1a" stroke-width="0.84"/>
<ellipse cx="265.31" cy="344.28" rx="0.78" ry="0.52" fill="#333" stroke="#1a1a1a" stroke-width="0.72"/>
<ellipse cx="263.11" cy="351.8" rx="1.04" ry="0.65" fill="none" stroke="#1a1a1a" stroke-width="0.72"/>
<ellipse cx="255.58" cy="339.35" rx="3.89" ry="2.33" fill="none" stroke="#1a1a1a" stroke-width="0.84"/>
<path d="M277.89 305.37 L277.24 315.74" fill="none" stroke="#1a1a1a" stroke-width="0.84" stroke-linejoin="round"/>
<path d="M285.41 306.15 L286.32 314.45" fill="none" stroke="#1a1a1a" stroke-width="0.84" stroke-linejoin="round"/>
<ellipse cx="281.65" cy="305.63" rx="3.5" ry="2.08" fill="#fff" stroke="#1a1a1a" stroke-width="0.96"/>
<ellipse cx="281.65" cy="305.76" rx="1.04" ry="0.65" fill="#333" stroke="#1a1a1a" stroke-width="0.72"/>
<ellipse cx="286.84" cy="297.84" rx="3.37" ry="1.95" fill="none" stroke="#1a1a1a" stroke-width="0.84"/>
<path d="M286.32 311.59 L280.23 313.41 L275.43 312.89" fill="none" stroke="#1a1a1a" stroke-width="0.66" stroke-linejoin="round"/>
<path d="M263.11 309.91 L263.11 317.69" fill="none" stroke="#1a1a1a" stroke-width="0.96" stroke-linejoin="round"/>
<path d="M274 309.91 L274.65 317.04 L276.34 322.88 L269.2 325.08 L265.96 325.08" fill="none" stroke="#1a1a1a" stroke-width="0.96" stroke-linejoin="round"/>
<ellipse cx="268.55" cy="309.26" rx="5.45" ry="3.24" fill="#fff" stroke="#1a1a1a" stroke-width="1.08"/>
<ellipse cx="268.55" cy="309.52" rx="2.59" ry="1.43" fill="none" stroke="#1a1a1a" stroke-width="0.84"/>
<path d="M256.88 317.69 L256.88 323.53" fill="none" stroke="#1a1a1a" stroke-width="0.96" stroke-linejoin="round"/>
<path d="M265.96 317.69 L265.96 323.53" fill="none" stroke="#1a1a1a" stroke-width="0.96" stroke-linejoin="round"/>
<ellipse cx="261.42" cy="323.53" rx="4.54" ry="2.72" fill="#fff" stroke="#1a1a1a" stroke-width="0.96"/>
<ellipse cx="261.42" cy="323.78" rx="2.33" ry="1.3" fill="none" stroke="#1a1a1a" stroke-width="0.72"/>
<ellipse cx="261.42" cy="317.69" rx="4.54" ry="2.72" fill="#fff" stroke="#1a1a1a" stroke-width="0.96"/>
<ellipse cx="261.42" cy="317.69" rx="1.82" ry="1.04" fill="none" stroke="#1a1a1a" stroke-width="0.72"/>
<ellipse cx="261.42" cy="317.69" rx="0.78" ry="0.45" fill="#333" stroke="#1a1a1a" stroke-width="0.72"/>
<ellipse cx="281.2" cy="306.1" rx="5.2" ry="3.2" fill="#fff" stroke="#1a1a1a" stroke-width="1.08"/>
<ellipse cx="281.2" cy="306.2" rx="2.6" ry="1.5" fill="none" stroke="#1a1a1a" stroke-width="0.84"/>
<path d="M276 306.4 L276.2 313" fill="none" stroke="#1a1a1a" stroke-width="0.84" />
<path d="M286.4 306.4 L286.6 312" fill="none" stroke="#1a1a1a" stroke-width="0.84" />
<ellipse cx="295" cy="305.6" rx="5.2" ry="3.4" fill="#fff" stroke="#1a1a1a" stroke-width="1.08"/>
<ellipse cx="295.8" cy="306.6" rx="2.7" ry="1.7" fill="none" stroke="#1a1a1a" stroke-width="0.96"/>
<path d="M289.8 306 L290.2 312.6" fill="none" stroke="#1a1a1a" stroke-width="0.84" />
<path d="M300.2 306 L300.2 311" fill="none" stroke="#1a1a1a" stroke-width="0.84" />
<ellipse cx="302.3" cy="316.1" rx="4.8" ry="2.8" fill="#fff" stroke="#1a1a1a" stroke-width="0.96"/>
<path d="M310.4 314.2 L311.2 323" fill="none" stroke="#1a1a1a" stroke-width="0.84" />
<path d="M310.4 314.2 L316 311 L325 315.8 L325.8 317.4" fill="none" stroke="#1a1a1a" stroke-width="0.84" />
<ellipse cx="317.2" cy="317" rx="4.4" ry="2.7" fill="none" stroke="#1a1a1a" stroke-width="0.96"/>
<ellipse cx="317.6" cy="317.4" rx="1.8" ry="1.1" fill="none" stroke="#1a1a1a" stroke-width="0.72"/>
<ellipse cx="284.4" cy="328.8" rx="4.6" ry="2.6" fill="none" stroke="#1a1a1a" stroke-width="0.96"/>
<ellipse cx="268.5" cy="324" rx="3.2" ry="1.9" fill="none" stroke="#1a1a1a" stroke-width="0.84"/>
<ellipse cx="156.4" cy="406" rx="4.9" ry="3.5" fill="#fff" stroke="#222" stroke-width="1.7999999999999998"/>
<line x1="97" y1="385.5" x2="97.6" y2="404" stroke="#222" stroke-width="0.72" />
<line x1="163.2" y1="347" x2="163.8" y2="365" stroke="#222" stroke-width="0.72" />
<line x1="229.6" y1="308" x2="230.2" y2="328" stroke="#222" stroke-width="0.72" />
<line x1="303.6" y1="294.5" x2="304.2" y2="306.5" stroke="#222" stroke-width="0.72" />
<path d="M78.08 393.44 L77.69 402.78 L74.45 407.32 L62.78 413.15 L55.65 419.64 L55.65 437.79 L66.67 444.27 L79.64 450.75 L80.28 453.35 L82.88 457.88 L88.06 459.18 L99.73 459.18 L101.03 467.61 L104.92 470.85 L108.16 470.2 L122.42 471.5 L123.07 437.79 L120.48 431.95 L87.41 413.15 L88.97 410.3 L79.64 395.26 Z" fill="#fff" stroke="#fff" stroke-width="0.012" stroke-linejoin="round" stroke-linecap="round"/>
<path d="M78.08 393.44 L77.69 402.78 L74.45 407.32 L62.78 413.15 L55.65 419.64 L55.65 437.79 L66.67 444.27 L79.64 450.75" fill="none" stroke="#1a1a1a" stroke-width="1.2" stroke-linejoin="round" stroke-linecap="round"/>
<path d="M79.64 395.26 L88.97 410.3 L87.41 413.15" fill="none" stroke="#1a1a1a" stroke-width="1.08" stroke-linejoin="round" stroke-linecap="round"/>
<path d="M81.58 394.35 L90.66 408.61" fill="none" stroke="#333" stroke-width="0.72" stroke-linejoin="round" stroke-linecap="round"/>
<path d="M55.65 422.88 L62.78 426.12 L63.43 439.73" fill="none" stroke="#1a1a1a" stroke-width="0.84" stroke-linejoin="round" stroke-linecap="round"/>
<path d="M55.65 428.97 L62.78 431.3" fill="none" stroke="#1a1a1a" stroke-width="0.72" stroke-linejoin="round" stroke-linecap="round"/>
<path d="M62.78 426.12 L74.45 420.93" fill="none" stroke="#555" stroke-width="0.6" stroke-linejoin="round" stroke-linecap="round"/>
<path d="M56.94 438.82 L67.32 445.05 L78.99 449.98" fill="none" stroke="#222" stroke-width="1.92" stroke-linejoin="round" stroke-linecap="round"/>
<path d="M57.85 440.64 L67.97 446.6 L79.12 451.53" fill="none" stroke="#333" stroke-width="0.84" stroke-linejoin="round" stroke-linecap="round"/>
<path d="M70.56 446.86 L79.12 451.01" fill="none" stroke="#222" stroke-width="2.16" stroke-linejoin="round" stroke-linecap="round"/>
<ellipse cx="73.8" cy="419.64" rx="11" ry="6.5" fill="#fff" stroke="#1a1a1a" stroke-width="1.2"/>
<ellipse cx="73.54" cy="420.41" rx="9.2" ry="5.2" fill="none" stroke="#1a1a1a" stroke-width="0.72"/>
<ellipse cx="69.52" cy="421.58" rx="4.6" ry="4.4" fill="none" stroke="#1a1a1a" stroke-width="1.2" transform="rotate(-20 69.52 421.58)"/>
<path d="M74.45 425.47 L77.04 422.88 L79.64 423.78 L80.93 420.93" fill="none" stroke="#1a1a1a" stroke-width="0.72" stroke-linejoin="round" stroke-linecap="round"/>
<ellipse cx="74.45" cy="411.6" rx="1" ry="0.8" fill="none" stroke="#1a1a1a" stroke-width="0.72"/>
<ellipse cx="75.75" cy="428.45" rx="1" ry="0.8" fill="none" stroke="#1a1a1a" stroke-width="0.72"/>
<path d="M86.12 414.45 L86.64 420.41 L82.88 424.82 L80.28 427.67 L79.38 433.9 L79.89 452.7 L82.75 457.88 L88.06 459.31 L88.06 440.64 L88.97 438.57 L93.9 437.79 L98.44 440.38 L99.73 446.86 L99.86 459.31 L101.16 467.61 L104.92 470.98 L108.16 470.2 L108.16 441.16" fill="none" stroke="#1a1a1a" stroke-width="1.2" stroke-linejoin="round" stroke-linecap="round"/>
<path d="M87.41 413.15 L120.48 431.95" fill="none" stroke="#1a1a1a" stroke-width="1.08" stroke-linejoin="round" stroke-linecap="round"/>
<path d="M82.88 426.12 L108.16 439.86 L112.05 439.08 L120.48 431.95" fill="none" stroke="#1a1a1a" stroke-width="1.08" stroke-linejoin="round" stroke-linecap="round"/>
<path d="M80.28 427.67 L82.88 426.12" fill="none" stroke="#1a1a1a" stroke-width="0.96" stroke-linejoin="round" stroke-linecap="round"/>
<path d="M108.16 439.86 L108.16 441.16" fill="none" stroke="#1a1a1a" stroke-width="0.96" stroke-linejoin="round" stroke-linecap="round"/>
<ellipse cx="90.01" cy="428.97" rx="1" ry="1.4" fill="none" stroke="#1a1a1a" stroke-width="0.84" transform="rotate(-20 90.01 428.97)"/>
<ellipse cx="101.68" cy="435.45" rx="1" ry="1.4" fill="none" stroke="#1a1a1a" stroke-width="0.84" transform="rotate(-20 101.68 435.45)"/>
<ellipse cx="84.17" cy="433.38" rx="1" ry="1.4" fill="none" stroke="#1a1a1a" stroke-width="0.84" transform="rotate(-20 84.17 433.38)"/>
<ellipse cx="84.56" cy="454.64" rx="1" ry="1.4" fill="none" stroke="#1a1a1a" stroke-width="0.84" transform="rotate(-20 84.56 454.64)"/>
<ellipse cx="102.97" cy="444.01" rx="1" ry="1.4" fill="none" stroke="#1a1a1a" stroke-width="0.84" transform="rotate(-20 102.97 444.01)"/>
<ellipse cx="104.01" cy="466.05" rx="1" ry="1.4" fill="none" stroke="#1a1a1a" stroke-width="0.84" transform="rotate(-20 104.01 466.05)"/>
<path d="M88.19 449.46 L99.73 455.94" fill="none" stroke="#1a1a1a" stroke-width="0.96" stroke-linejoin="round" stroke-linecap="round"/>
<path d="M90.79 447.38 L90.79 451.01" fill="none" stroke="#1a1a1a" stroke-width="0.72" stroke-linejoin="round" stroke-linecap="round"/>
<path d="M93.9 452.05 L99.6 454.9" fill="none" stroke="#1a1a1a" stroke-width="0.72" stroke-linejoin="round" stroke-linecap="round"/>
<path d="M112.05 439.08 L114.9 434.55 L120.48 431.95 L118.27 436.23 L116.2 440.64 L115.94 445.05 L113.61 441.94 L112.05 439.08" fill="#fff" stroke="#1a1a1a" stroke-width="0.96" stroke-linejoin="round" stroke-linecap="round"/>
<path d="M114.9 434.55 L113.61 439.73 L115.94 445.05" fill="none" stroke="#222" stroke-width="1.68" stroke-linejoin="round" stroke-linecap="round"/>
<path d="M108.16 452.05 L115.94 459.83 L123.72 462.68 L127.61 459.83" fill="none" stroke="#1a1a1a" stroke-width="1.08" stroke-linejoin="round" stroke-linecap="round"/>
<path d="M115.94 459.83 L116.46 467.61 L122.42 471.5" fill="none" stroke="#1a1a1a" stroke-width="0.96" stroke-linejoin="round" stroke-linecap="round"/>
<path d="M108.16 470.2 L113.35 467.61 L116.46 467.61" fill="none" stroke="#1a1a1a" stroke-width="0.96" stroke-linejoin="round" stroke-linecap="round"/>
<path d="M123.72 462.68 L123.98 472.8" fill="none" stroke="#1a1a1a" stroke-width="0.84" stroke-linejoin="round" stroke-linecap="round"/>
<path d="M120.48 431.95 L122.42 435.19 L123.2 462.42" fill="none" stroke="#1a1a1a" stroke-width="1.2" stroke-linejoin="round" stroke-linecap="round"/>
<path d="M123.2 462.4 Q123.6 469.5 126.6 472.6 Q128.6 474.8 131.2 475.2" fill="none" stroke="#1a1a1a" stroke-width="1.2" />
<path d="M127.61 459.83 L127.87 470.85" fill="none" stroke="#1a1a1a" stroke-width="0.72" stroke-linejoin="round" stroke-linecap="round"/>
<ellipse cx="351.6" cy="357" rx="3.7" ry="5.4" fill="none" stroke="#1a1a1a" stroke-width="1.32" transform="rotate(14 351.6 357)"/>
<ellipse cx="352.2" cy="357.2" rx="2.6" ry="4.2" fill="none" stroke="#1a1a1a" stroke-width="0.72" transform="rotate(14 352.2 357.2)"/>
<line x1="332.5" y1="346.6" x2="347.6" y2="355.4" stroke="#444" stroke-width="0.66" />
<ellipse cx="330.6" cy="345.2" rx="2.7" ry="3.9" fill="none" stroke="#1a1a1a" stroke-width="0.96" transform="rotate(20 330.6 345.2)"/>
<line x1="347.3" y1="362.5" x2="346.7" y2="373.5" stroke="#444" stroke-width="0.66" />
<rect x="341.7" y="373.8" width="9.8" height="8" fill="#ffff00"/>
<text x="346.6" y="379.95" text-anchor="middle" class="lb">14</text>
<line x1="258.5" y1="267.3" x2="258.5" y2="288.3" stroke="#444" stroke-width="0.72" />
<rect x="255" y="256.6" width="7" height="8.9" fill="#ffff00"/>
<text x="258.5" y="263.65" text-anchor="middle" class="lb">2</text>
<ellipse cx="327.5" cy="332.5" rx="0.9" ry="1.3" fill="none" stroke="#1a1a1a" stroke-width="0.72"/>
<ellipse cx="336" cy="334" rx="0.9" ry="1.3" fill="none" stroke="#1a1a1a" stroke-width="0.72"/>
<ellipse cx="323" cy="339.5" rx="0.9" ry="1.3" fill="none" stroke="#1a1a1a" stroke-width="0.72"/>
<ellipse cx="68.9" cy="539.4" rx="6.5" ry="3.3" fill="#fff" stroke="#1a1a1a" stroke-width="1.08"/>
<path d="M67.5 498.40000000000003 q1.4 -1.3 2.8 0 V534.5 q0.3 2.6 3.4 2.7 M67.5 498.40000000000003 V534.5 q-0.3 2.6 -3.4 2.7" fill="none" stroke="#1a1a1a" stroke-width="1.02" />
<rect x="67.9" y="533.5" width="2" height="4.4" fill="#fff"/>
<path d="M64.30000000000001 540.3 q4.6 2.2 9.2 0" fill="none" stroke="#555" stroke-width="0.6" />
<line x1="67.5" y1="500.2" x2="70.3" y2="500.2" stroke="#333" stroke-width="0.6" />
<line x1="67.5" y1="501.4" x2="70.3" y2="501.4" stroke="#333" stroke-width="0.6" />
<ellipse cx="92.7" cy="525.3" rx="6.5" ry="3.3" fill="#fff" stroke="#1a1a1a" stroke-width="1.08"/>
<path d="M91.3 483.8 q1.4 -1.3 2.8 0 V520.3 q0.3 2.6 3.4 2.8 M91.3 483.8 V520.3 q-0.3 2.6 -3.4 2.8" fill="none" stroke="#1a1a1a" stroke-width="1.02" />
<rect x="91.7" y="519.3" width="2" height="4.5" fill="#fff"/>
<path d="M88.10000000000001 526.1999999999999 q4.6 2.2 9.2 0" fill="none" stroke="#555" stroke-width="0.6" />
<line x1="91.3" y1="485.6" x2="94.1" y2="485.6" stroke="#333" stroke-width="0.6" />
<line x1="91.3" y1="486.8" x2="94.1" y2="486.8" stroke="#333" stroke-width="0.6" />
<ellipse cx="69.4" cy="490" rx="7.2" ry="3.9" fill="none" stroke="#1a1a1a" stroke-width="1.08"/>
<ellipse cx="69.4" cy="488.2" rx="7.2" ry="3.5" fill="#fff" stroke="#1a1a1a" stroke-width="1.08"/>
<ellipse cx="69.4" cy="488.5" rx="5.5" ry="2.4" fill="none" stroke="#1a1a1a" stroke-width="0.84"/>
<ellipse cx="92.7" cy="475.8" rx="6.7" ry="3.7" fill="none" stroke="#1a1a1a" stroke-width="1.08"/>
<ellipse cx="92.7" cy="474" rx="6.7" ry="3.3" fill="#fff" stroke="#1a1a1a" stroke-width="1.08"/>
<ellipse cx="92.7" cy="474.3" rx="5" ry="2.2" fill="none" stroke="#1a1a1a" stroke-width="0.84"/>
<line x1="48.5" y1="488.2" x2="62" y2="489" stroke="#555" stroke-width="0.6" />
<rect x="41.3" y="484.4" width="6.5" height="8.2" fill="#ffff00"/>
<text x="44.55" y="490.75" text-anchor="middle" class="lb">9</text>
<line x1="100" y1="476.8" x2="107.5" y2="478.6" stroke="#555" stroke-width="0.6" />
<rect x="108" y="476.1" width="9.2" height="7.7" fill="#ffff00"/>
<text x="112.6" y="481.95" text-anchor="middle" class="lb">11</text>
<line x1="94.2" y1="504" x2="107" y2="504" stroke="#555" stroke-width="0.6" />
<rect x="107.2" y="499.2" width="9.8" height="8.4" fill="#fa7c7c"/>
<text x="112.1" y="505.75" text-anchor="middle" class="lb">12</text>
<line x1="48.5" y1="517.4" x2="67.4" y2="517.4" stroke="#555" stroke-width="0.6" />
<rect x="38.3" y="513.6" width="9.7" height="7.8" fill="#ffff00"/>
<text x="43.15" y="519.55" text-anchor="middle" class="lb">10</text>
<path d="M211.2 439.8 Q211.3 447.6 212.7 450.4 Q216.5 453 220.3 450.4 Q221.7 447.6 221.8 439.8" fill="none" stroke="#1a1a1a" stroke-width="1.08" />
<ellipse cx="216.5" cy="439.7" rx="5.3" ry="1.9" fill="none" stroke="#1a1a1a" stroke-width="1.08"/>
<path d="M212.5 448.4 q4 2 8 0" fill="none" stroke="#555" stroke-width="0.6" />
<line x1="222" y1="443.5" x2="230.5" y2="443" stroke="#555" stroke-width="0.6" />
<rect x="231.1" y="438.3" width="10.2" height="8.7" fill="#ffff00"/>
<text x="236.2" y="445.15" text-anchor="middle" class="lb">13</text>
<line x1="190.6" y1="468.4" x2="194.2" y2="470.4" stroke="#222" stroke-width="3.2" stroke-linecap="round"/>
<line x1="190.6" y1="468.4" x2="194.2" y2="470.4" stroke="#fff" stroke-width="1.4" stroke-linecap="round"/>
<path d="M194.2 468.6 l2.6 -1.2 l3.2 1 l1.2 2.8 l-0.6 2.8 l-2.8 1.4 l-3 -1 l-1.2 -2.8 z" fill="#fff" stroke="#1a1a1a" stroke-width="1.2" />
<ellipse cx="197.6" cy="471.6" rx="1.7" ry="1.5" fill="none" stroke="#1a1a1a" stroke-width="0.72"/>
<line x1="198.5" y1="463.3" x2="195.2" y2="468.2" stroke="#555" stroke-width="0.6" />
<rect x="195.8" y="455.2" width="10.2" height="7.8" fill="#ffff00"/>
<text x="200.9" y="461.15" text-anchor="middle" class="lb">15</text>
<ellipse cx="165.7" cy="463.3" rx="3.9" ry="5.3" fill="none" stroke="#1a1a1a" stroke-width="1.44" transform="rotate(18 165.7 463.3)"/>
<ellipse cx="166" cy="463.3" rx="2.9" ry="4.2" fill="none" stroke="#1a1a1a" stroke-width="0.6" transform="rotate(18 166 463.3)"/>
<line x1="128" y1="441.5" x2="162.2" y2="461.6" stroke="#444" stroke-width="0.66" />
<line x1="162.4" y1="467.4" x2="158.6" y2="478" stroke="#555" stroke-width="0.6" />
<line x1="181" y1="467" x2="189.4" y2="463.4" stroke="#222" stroke-width="3.6" stroke-linecap="round"/>
<line x1="181" y1="467" x2="189.4" y2="463.4" stroke="#fff" stroke-width="1.7" stroke-linecap="round"/>
<ellipse cx="188.6" cy="463.8" rx="0.9" ry="1" fill="none" stroke="#1a1a1a" stroke-width="0.6"/>
<ellipse cx="172.8" cy="469.6" rx="2.6" ry="5.5" fill="#aaa" stroke="#222" stroke-width="1.14" transform="rotate(18 172.8 469.6)"/>
<ellipse cx="174.4" cy="470.05" rx="2.6" ry="5.5" fill="none" stroke="#222" stroke-width="1.14" transform="rotate(18 174.4 470.05)"/>
<ellipse cx="176" cy="470.5" rx="2.6" ry="5.5" fill="none" stroke="#222" stroke-width="1.14" transform="rotate(18 176 470.5)"/>
<ellipse cx="177.4" cy="470.95" rx="2.6" ry="5.5" fill="none" stroke="#222" stroke-width="1.14" transform="rotate(18 177.4 470.95)"/>
<ellipse cx="179.3" cy="471.3" rx="2.9" ry="4.3" fill="#fff" stroke="#1a1a1a" stroke-width="1.2" transform="rotate(18 179.3 471.3)"/>
<line x1="173.2" y1="476.4" x2="171.5" y2="485.6" stroke="#555" stroke-width="0.6" />
<text x="154.6" y="485" class="lb">18</text>
<text x="166.3" y="493.3" class="lb">17</text>
<path d="M153.8 481.8 L153.8 485.2 L172.4 495.4 L174 494.4" fill="none" stroke="#444" stroke-width="0.6" />
<line x1="158.7" y1="496" x2="161.6" y2="489.6" stroke="#444" stroke-width="0.6" />
<rect x="148" y="496.2" width="11.2" height="8.1" fill="#00f800"/>
<text x="153.6" y="502.45" text-anchor="middle" class="lb">16</text>
<path d="M119.2 556.2 L316.4 442.6 L321.3 441.5 L329.6 442.7 L332 442.1 L334.8 443.3 L381.4 468.7 L381.4 470 L379.6 471.6 L186 584 L182.4 586.2 L177.2 586.2 L174.6 584.6 L171.2 581.2 L164.6 580.6 L119.4 557.6 Z" fill="none" stroke="#1a1a1a" stroke-width="1.2" stroke-linejoin="round"/>
<path d="M123.6 555.6 L317 444.4 L329 444.4 L334 445" fill="none" stroke="#222" stroke-width="0.72" />
<circle r="1" transform="matrix(15.76 -9.1 16.09 8.5 172.4 564)" fill="none" stroke="#111" stroke-width="1.5" vector-effect="non-scaling-stroke"/>
<ellipse cx="165.8" cy="579.5" rx="2.7" ry="1.8" fill="none" stroke="#1a1a1a" stroke-width="0.96" transform="rotate(-8 165.8 579.5)"/>
<ellipse cx="178.8" cy="548.4" rx="2.7" ry="1.8" fill="none" stroke="#1a1a1a" stroke-width="0.96" transform="rotate(-8 178.8 548.4)"/>
<ellipse cx="192.3" cy="575.1" rx="2.7" ry="1.8" fill="none" stroke="#1a1a1a" stroke-width="0.96" transform="rotate(-8 192.3 575.1)"/>
<ellipse cx="152.5" cy="552.2" rx="2.7" ry="1.8" fill="none" stroke="#1a1a1a" stroke-width="0.96" transform="rotate(-8 152.5 552.2)"/>
<ellipse cx="145.3" cy="567.2" rx="2.7" ry="1.8" fill="none" stroke="#1a1a1a" stroke-width="0.96" transform="rotate(-8 145.3 567.2)"/>
<ellipse cx="201.5" cy="567" rx="1" ry="0.8" fill="none" stroke="#1a1a1a" stroke-width="0.84"/>
<ellipse cx="178.4" cy="539.4" rx="0.7" ry="0.6" fill="#333" stroke="#1a1a1a" stroke-width="0.72"/>
<ellipse cx="169.4" cy="544.4" rx="0.7" ry="0.6" fill="#333" stroke="#1a1a1a" stroke-width="0.72"/>
<path d="M129.8 557.88 Q128.59 556.42 129.48 554.47 Q130.37 552.53 132.72 551.31 Q135.07 550.1 137.91 549.21 Q140.74 548.31 143.17 547.67 Q145.6 547.02 147.22 545.56 Q148.84 544.1 151.11 542.97 Q153.38 541.83 156.38 541.51 Q159.38 541.18 161.24 542.48 Q163.1 543.78 163.35 545.64 Q163.59 547.5 162.29 549.53 Q161 551.56 158.97 552.77 Q156.95 553.99 154.92 554.8 Q152.89 555.61 150.46 556.17 Q148.03 556.74 146.82 557.79 Q145.6 558.85 143.58 559.25 Q141.55 559.66 138.72 559.82 Q135.88 559.98 133.45 559.66 Q131.02 559.33 129.8 557.88 Z" fill="none" stroke="#1a1a1a" stroke-width="0.96" />
<ellipse cx="137.5" cy="553.5" rx="4.7" ry="2.9" fill="none" stroke="#888" stroke-width="0.54"/>
<ellipse cx="137.5" cy="553.5" rx="3.1" ry="1.9" fill="none" stroke="#555" stroke-width="0.66"/>
<ellipse cx="137.5" cy="553.5" rx="1.5" ry="1" fill="none" stroke="#222" stroke-width="1.08"/>
<ellipse cx="152.5" cy="546.2" rx="4.7" ry="2.9" fill="none" stroke="#888" stroke-width="0.54"/>
<ellipse cx="152.5" cy="546.2" rx="3.1" ry="1.9" fill="none" stroke="#555" stroke-width="0.66"/>
<ellipse cx="152.5" cy="546.2" rx="1.5" ry="1" fill="none" stroke="#222" stroke-width="1.08"/>
<path d="M160.1 541.8 L162.9 543.6" fill="none" stroke="#1a1a1a" stroke-width="0.84" />
<circle r="1" transform="matrix(15.76 -9.1 16.09 8.5 205.6 544.68)" fill="none" stroke="#111" stroke-width="1.5" vector-effect="non-scaling-stroke"/>
<ellipse cx="199" cy="560.18" rx="2.7" ry="1.8" fill="none" stroke="#1a1a1a" stroke-width="0.96" transform="rotate(-8 199 560.18)"/>
<ellipse cx="212" cy="529.08" rx="2.7" ry="1.8" fill="none" stroke="#1a1a1a" stroke-width="0.96" transform="rotate(-8 212 529.08)"/>
<ellipse cx="225.5" cy="555.78" rx="2.7" ry="1.8" fill="none" stroke="#1a1a1a" stroke-width="0.96" transform="rotate(-8 225.5 555.78)"/>
<ellipse cx="185.7" cy="532.88" rx="2.7" ry="1.8" fill="none" stroke="#1a1a1a" stroke-width="0.96" transform="rotate(-8 185.7 532.88)"/>
<ellipse cx="234.7" cy="547.68" rx="1" ry="0.8" fill="none" stroke="#1a1a1a" stroke-width="0.84"/>
<ellipse cx="211.6" cy="520.08" rx="0.7" ry="0.6" fill="#333" stroke="#1a1a1a" stroke-width="0.72"/>
<ellipse cx="202.6" cy="525.08" rx="0.7" ry="0.6" fill="#333" stroke="#1a1a1a" stroke-width="0.72"/>
<path d="M163 538.56 Q161.79 537.1 162.68 535.15 Q163.57 533.21 165.92 531.99 Q168.27 530.78 171.11 529.89 Q173.94 528.99 176.37 528.35 Q178.8 527.7 180.42 526.24 Q182.04 524.78 184.31 523.65 Q186.58 522.51 189.58 522.19 Q192.58 521.86 194.44 523.16 Q196.3 524.46 196.55 526.32 Q196.79 528.18 195.49 530.21 Q194.2 532.24 192.17 533.45 Q190.15 534.67 188.12 535.48 Q186.09 536.29 183.66 536.85 Q181.23 537.42 180.02 538.47 Q178.8 539.53 176.78 539.93 Q174.75 540.34 171.92 540.5 Q169.08 540.66 166.65 540.34 Q164.22 540.01 163 538.56 Z" fill="none" stroke="#1a1a1a" stroke-width="0.96" />
<ellipse cx="170.7" cy="534.18" rx="4.7" ry="2.9" fill="none" stroke="#888" stroke-width="0.54"/>
<ellipse cx="170.7" cy="534.18" rx="3.1" ry="1.9" fill="none" stroke="#555" stroke-width="0.66"/>
<ellipse cx="170.7" cy="534.18" rx="1.5" ry="1" fill="none" stroke="#222" stroke-width="1.08"/>
<ellipse cx="185.7" cy="526.88" rx="4.7" ry="2.9" fill="none" stroke="#888" stroke-width="0.54"/>
<ellipse cx="185.7" cy="526.88" rx="3.1" ry="1.9" fill="none" stroke="#555" stroke-width="0.66"/>
<ellipse cx="185.7" cy="526.88" rx="1.5" ry="1" fill="none" stroke="#222" stroke-width="1.08"/>
<path d="M193.3 522.48 L196.1 524.28" fill="none" stroke="#1a1a1a" stroke-width="0.84" />
<circle r="1" transform="matrix(15.76 -9.1 16.09 8.5 238.8 525.36)" fill="none" stroke="#111" stroke-width="1.5" vector-effect="non-scaling-stroke"/>
<ellipse cx="232.2" cy="540.86" rx="2.7" ry="1.8" fill="none" stroke="#1a1a1a" stroke-width="0.96" transform="rotate(-8 232.2 540.86)"/>
<ellipse cx="245.2" cy="509.76" rx="2.7" ry="1.8" fill="none" stroke="#1a1a1a" stroke-width="0.96" transform="rotate(-8 245.2 509.76)"/>
<ellipse cx="258.7" cy="536.46" rx="2.7" ry="1.8" fill="none" stroke="#1a1a1a" stroke-width="0.96" transform="rotate(-8 258.7 536.46)"/>
<ellipse cx="218.9" cy="513.56" rx="2.7" ry="1.8" fill="none" stroke="#1a1a1a" stroke-width="0.96" transform="rotate(-8 218.9 513.56)"/>
<ellipse cx="267.9" cy="528.36" rx="2.6" ry="1.7" fill="none" stroke="#1a1a1a" stroke-width="0.84"/>
<ellipse cx="244.8" cy="500.76" rx="0.7" ry="0.6" fill="#333" stroke="#1a1a1a" stroke-width="0.72"/>
<ellipse cx="235.8" cy="505.76" rx="0.7" ry="0.6" fill="#333" stroke="#1a1a1a" stroke-width="0.72"/>
<path d="M196.2 519.24 Q194.99 517.78 195.88 515.83 Q196.77 513.89 199.12 512.67 Q201.47 511.46 204.31 510.57 Q207.14 509.67 209.57 509.03 Q212 508.38 213.62 506.92 Q215.24 505.46 217.51 504.33 Q219.78 503.19 222.78 502.87 Q225.78 502.54 227.64 503.84 Q229.5 505.14 229.75 507 Q229.99 508.86 228.69 510.89 Q227.4 512.92 225.37 514.13 Q223.35 515.35 221.32 516.16 Q219.29 516.97 216.86 517.53 Q214.43 518.1 213.22 519.15 Q212 520.21 209.98 520.61 Q207.95 521.02 205.12 521.18 Q202.28 521.34 199.85 521.02 Q197.42 520.69 196.2 519.24 Z" fill="none" stroke="#1a1a1a" stroke-width="0.96" />
<ellipse cx="203.9" cy="514.86" rx="4.7" ry="2.9" fill="none" stroke="#888" stroke-width="0.54"/>
<ellipse cx="203.9" cy="514.86" rx="3.1" ry="1.9" fill="none" stroke="#555" stroke-width="0.66"/>
<ellipse cx="203.9" cy="514.86" rx="1.5" ry="1" fill="none" stroke="#222" stroke-width="1.08"/>
<ellipse cx="218.9" cy="507.56" rx="4.7" ry="2.9" fill="none" stroke="#888" stroke-width="0.54"/>
<ellipse cx="218.9" cy="507.56" rx="3.1" ry="1.9" fill="none" stroke="#555" stroke-width="0.66"/>
<ellipse cx="218.9" cy="507.56" rx="1.5" ry="1" fill="none" stroke="#222" stroke-width="1.08"/>
<path d="M226.5 503.16 L229.3 504.96" fill="none" stroke="#1a1a1a" stroke-width="0.84" />
<circle r="1" transform="matrix(15.76 -9.1 16.09 8.5 272 506.04)" fill="none" stroke="#111" stroke-width="1.5" vector-effect="non-scaling-stroke"/>
<ellipse cx="265.4" cy="521.54" rx="2.7" ry="1.8" fill="none" stroke="#1a1a1a" stroke-width="0.96" transform="rotate(-8 265.4 521.54)"/>
<ellipse cx="278.4" cy="490.44" rx="2.7" ry="1.8" fill="none" stroke="#1a1a1a" stroke-width="0.96" transform="rotate(-8 278.4 490.44)"/>
<ellipse cx="291.9" cy="517.14" rx="2.7" ry="1.8" fill="none" stroke="#1a1a1a" stroke-width="0.96" transform="rotate(-8 291.9 517.14)"/>
<ellipse cx="252.1" cy="494.24" rx="2.7" ry="1.8" fill="none" stroke="#1a1a1a" stroke-width="0.96" transform="rotate(-8 252.1 494.24)"/>
<ellipse cx="301.1" cy="509.04" rx="2.6" ry="1.7" fill="none" stroke="#1a1a1a" stroke-width="0.84"/>
<ellipse cx="278" cy="481.44" rx="0.7" ry="0.6" fill="#333" stroke="#1a1a1a" stroke-width="0.72"/>
<ellipse cx="269" cy="486.44" rx="0.7" ry="0.6" fill="#333" stroke="#1a1a1a" stroke-width="0.72"/>
<path d="M229.4 499.92 Q228.19 498.46 229.08 496.51 Q229.97 494.57 232.32 493.35 Q234.67 492.14 237.51 491.25 Q240.34 490.35 242.77 489.71 Q245.2 489.06 246.82 487.6 Q248.44 486.14 250.71 485.01 Q252.98 483.87 255.98 483.55 Q258.98 483.22 260.84 484.52 Q262.7 485.82 262.95 487.68 Q263.19 489.54 261.89 491.57 Q260.6 493.6 258.57 494.81 Q256.55 496.03 254.52 496.84 Q252.49 497.65 250.06 498.21 Q247.63 498.78 246.42 499.83 Q245.2 500.89 243.18 501.29 Q241.15 501.7 238.32 501.86 Q235.48 502.02 233.05 501.7 Q230.62 501.37 229.4 499.92 Z" fill="none" stroke="#1a1a1a" stroke-width="0.96" />
<ellipse cx="237.1" cy="495.54" rx="4.7" ry="2.9" fill="none" stroke="#888" stroke-width="0.54"/>
<ellipse cx="237.1" cy="495.54" rx="3.1" ry="1.9" fill="none" stroke="#555" stroke-width="0.66"/>
<ellipse cx="237.1" cy="495.54" rx="1.5" ry="1" fill="none" stroke="#222" stroke-width="1.08"/>
<ellipse cx="252.1" cy="488.24" rx="4.7" ry="2.9" fill="none" stroke="#888" stroke-width="0.54"/>
<ellipse cx="252.1" cy="488.24" rx="3.1" ry="1.9" fill="none" stroke="#555" stroke-width="0.66"/>
<ellipse cx="252.1" cy="488.24" rx="1.5" ry="1" fill="none" stroke="#222" stroke-width="1.08"/>
<path d="M259.7 483.84 L262.5 485.64" fill="none" stroke="#1a1a1a" stroke-width="0.84" />
<circle r="1" transform="matrix(15.76 -9.1 16.09 8.5 305.2 486.72)" fill="none" stroke="#111" stroke-width="1.5" vector-effect="non-scaling-stroke"/>
<ellipse cx="298.6" cy="502.22" rx="2.7" ry="1.8" fill="none" stroke="#1a1a1a" stroke-width="0.96" transform="rotate(-8 298.6 502.22)"/>
<ellipse cx="311.6" cy="471.12" rx="2.7" ry="1.8" fill="none" stroke="#1a1a1a" stroke-width="0.96" transform="rotate(-8 311.6 471.12)"/>
<ellipse cx="325.1" cy="497.82" rx="2.7" ry="1.8" fill="none" stroke="#1a1a1a" stroke-width="0.96" transform="rotate(-8 325.1 497.82)"/>
<ellipse cx="285.3" cy="474.92" rx="2.7" ry="1.8" fill="none" stroke="#1a1a1a" stroke-width="0.96" transform="rotate(-8 285.3 474.92)"/>
<ellipse cx="334.3" cy="489.72" rx="2.6" ry="1.7" fill="none" stroke="#1a1a1a" stroke-width="0.84"/>
<ellipse cx="311.2" cy="462.12" rx="0.7" ry="0.6" fill="#333" stroke="#1a1a1a" stroke-width="0.72"/>
<ellipse cx="302.2" cy="467.12" rx="0.7" ry="0.6" fill="#333" stroke="#1a1a1a" stroke-width="0.72"/>
<path d="M262.6 480.6 Q261.39 479.14 262.28 477.19 Q263.17 475.25 265.52 474.03 Q267.87 472.82 270.71 471.93 Q273.54 471.03 275.97 470.39 Q278.4 469.74 280.02 468.28 Q281.64 466.82 283.91 465.69 Q286.18 464.55 289.18 464.23 Q292.18 463.9 294.04 465.2 Q295.9 466.5 296.15 468.36 Q296.39 470.22 295.09 472.25 Q293.8 474.28 291.77 475.49 Q289.75 476.71 287.72 477.52 Q285.69 478.33 283.26 478.89 Q280.83 479.46 279.62 480.51 Q278.4 481.57 276.38 481.97 Q274.35 482.38 271.52 482.54 Q268.68 482.7 266.25 482.38 Q263.82 482.05 262.6 480.6 Z" fill="none" stroke="#1a1a1a" stroke-width="0.96" />
<ellipse cx="270.3" cy="476.22" rx="4.7" ry="2.9" fill="none" stroke="#888" stroke-width="0.54"/>
<ellipse cx="270.3" cy="476.22" rx="3.1" ry="1.9" fill="none" stroke="#555" stroke-width="0.66"/>
<ellipse cx="270.3" cy="476.22" rx="1.5" ry="1" fill="none" stroke="#222" stroke-width="1.08"/>
<ellipse cx="285.3" cy="468.92" rx="4.7" ry="2.9" fill="none" stroke="#888" stroke-width="0.54"/>
<ellipse cx="285.3" cy="468.92" rx="3.1" ry="1.9" fill="none" stroke="#555" stroke-width="0.66"/>
<ellipse cx="285.3" cy="468.92" rx="1.5" ry="1" fill="none" stroke="#222" stroke-width="1.08"/>
<path d="M292.9 464.52 L295.7 466.32" fill="none" stroke="#1a1a1a" stroke-width="0.84" />
<circle r="1" transform="matrix(15.76 -9.1 16.09 8.5 338.4 467.4)" fill="none" stroke="#111" stroke-width="1.5" vector-effect="non-scaling-stroke"/>
<ellipse cx="331.8" cy="482.9" rx="2.7" ry="1.8" fill="none" stroke="#1a1a1a" stroke-width="0.96" transform="rotate(-8 331.8 482.9)"/>
<ellipse cx="344.8" cy="451.8" rx="2.7" ry="1.8" fill="none" stroke="#1a1a1a" stroke-width="0.96" transform="rotate(-8 344.8 451.8)"/>
<ellipse cx="358.3" cy="478.5" rx="2.7" ry="1.8" fill="none" stroke="#1a1a1a" stroke-width="0.96" transform="rotate(-8 358.3 478.5)"/>
<ellipse cx="318.5" cy="455.6" rx="2.7" ry="1.8" fill="none" stroke="#1a1a1a" stroke-width="0.96" transform="rotate(-8 318.5 455.6)"/>
<ellipse cx="365.5" cy="463.7" rx="2.7" ry="1.8" fill="none" stroke="#1a1a1a" stroke-width="0.96" transform="rotate(-8 365.5 463.7)"/>
<ellipse cx="367.5" cy="470.4" rx="2.6" ry="1.7" fill="none" stroke="#1a1a1a" stroke-width="0.84"/>
<ellipse cx="335.4" cy="447.8" rx="0.7" ry="0.6" fill="#333" stroke="#1a1a1a" stroke-width="0.72"/>
<path d="M295.8 461.28 Q294.59 459.82 295.48 457.87 Q296.37 455.93 298.72 454.71 Q301.07 453.5 303.91 452.61 Q306.74 451.71 309.17 451.07 Q311.6 450.42 313.22 448.96 Q314.84 447.5 317.11 446.37 Q319.38 445.23 322.38 444.91 Q325.38 444.58 327.24 445.88 Q329.1 447.18 329.35 449.04 Q329.59 450.9 328.29 452.93 Q327 454.96 324.97 456.17 Q322.95 457.39 320.92 458.2 Q318.89 459.01 316.46 459.57 Q314.03 460.14 312.82 461.19 Q311.6 462.25 309.58 462.65 Q307.55 463.06 304.72 463.22 Q301.88 463.38 299.45 463.06 Q297.02 462.73 295.8 461.28 Z" fill="none" stroke="#1a1a1a" stroke-width="0.96" />
<ellipse cx="303.5" cy="456.9" rx="4.7" ry="2.9" fill="none" stroke="#888" stroke-width="0.54"/>
<ellipse cx="303.5" cy="456.9" rx="3.1" ry="1.9" fill="none" stroke="#555" stroke-width="0.66"/>
<ellipse cx="303.5" cy="456.9" rx="1.5" ry="1" fill="none" stroke="#222" stroke-width="1.08"/>
<ellipse cx="318.5" cy="449.6" rx="4.7" ry="2.9" fill="none" stroke="#888" stroke-width="0.54"/>
<ellipse cx="318.5" cy="449.6" rx="3.1" ry="1.9" fill="none" stroke="#555" stroke-width="0.66"/>
<ellipse cx="318.5" cy="449.6" rx="1.5" ry="1" fill="none" stroke="#222" stroke-width="1.08"/>
<line x1="125.6" y1="557.2" x2="139" y2="563.4" stroke="#111" stroke-width="4.6" stroke-linecap="round"/>
<line x1="125.6" y1="557.2" x2="139" y2="563.4" stroke="#fff" stroke-width="2.4" stroke-linecap="round"/>
<line x1="125.6" y1="557.2" x2="139" y2="563.4" stroke="#333" stroke-width="0.6" stroke-linecap="round"/>
<path d="M214.5 565.6 L219 563" fill="none" stroke="#999" stroke-width="0.96" />
<path d="M247.5 546.5 L252 544" fill="none" stroke="#999" stroke-width="0.96" />
<line x1="277.6" y1="531.6" x2="292.2" y2="547.6" stroke="#444" stroke-width="0.66" />
<text x="292.2" y="557.6" class="lb">19</text>
</svg>
</div>
<div id="tb"><div class="in"></div>
<svg width="44" height="170" style="position:absolute;left:-1px;top:-1px" viewBox="2 21 44 170">
<defs><linearGradient id="bg1" x1="0" y1="0" x2="0" y2="1"><stop offset="0" stop-color="#f6f6f6"/><stop offset="0.48" stop-color="#e6e6e6"/><stop offset="0.52" stop-color="#d4d4d4"/><stop offset="1" stop-color="#e2e2e2"/></linearGradient>
<linearGradient id="bg2" x1="0" y1="0" x2="1" y2="0"><stop offset="0" stop-color="#f4f4f4"/><stop offset="0.6" stop-color="#d0d0d0"/><stop offset="1" stop-color="#a9a9a9"/></linearGradient></defs>
<!-- plus -->
<path d="M17.5 34 H30.5 Q31.5 34 31.5 35 V38.6 L33.6 41.2 L31.5 43.8 V47.4 Q31.5 48.4 30.5 48.4 H17.5 Q16.5 48.4 16.5 47.4 V35 Q16.5 34 17.5 34 Z" fill="url(#bg1)" stroke="#828282" stroke-width="0.8"/>
<path d="M19.6 41.1 H28.8 M24.2 36.4 V45.8" stroke="#484848" stroke-width="1.9"/>
<!-- minus -->
<path d="M17.5 57 H30.5 Q31.5 57 31.5 58 V70.4 Q31.5 71.4 30.5 71.4 H17.5 Q16.5 71.4 16.5 70.4 V66.8 L14.4 64.2 L16.5 61.6 V58 Q16.5 57 17.5 57 Z" fill="url(#bg1)" stroke="#828282" stroke-width="0.8"/>
<path d="M19.6 64.2 H28.8" stroke="#484848" stroke-width="2"/>
<!-- grid -->
<rect x="16.5" y="85.7" width="15" height="14.7" rx="1" fill="url(#bg1)" stroke="#828282" stroke-width="0.8"/>
<g fill="#8a8a8a" stroke="#7a7a7a" stroke-width="0.4"><rect x="18.6" y="87.6" width="3.2" height="3.2"/><rect x="26.5" y="87.6" width="3.2" height="3.2"/><rect x="18.6" y="95.5" width="3.2" height="3.2"/><rect x="26.5" y="95.5" width="3.2" height="3.2"/></g>
<!-- square -->
<rect x="16.5" y="108.7" width="15" height="14.7" rx="1" fill="url(#bg1)" stroke="#828282" stroke-width="0.8"/>
<rect x="17.6" y="109.8" width="12.8" height="12.5" fill="none" stroke="#fafafa" stroke-width="0.9"/>
<rect x="20.4" y="112.4" width="7.6" height="7.6" fill="#d6d6d6" stroke="#454545" stroke-width="1"/>
<!-- arrow panel -->
<rect x="21" y="161.5" width="12.5" height="14.8" fill="url(#bg2)"/>
<path d="M21.3 161.5 V176.3" stroke="#fff" stroke-width="0.9"/>
<g fill="#e2e2e2" stroke="#8c8c8c" stroke-width="0.6"><rect x="15.6" y="161.8" width="4.4" height="4.2"/><rect x="15.6" y="166.8" width="4.4" height="4.2"/><rect x="15.6" y="171.8" width="4.4" height="4.2"/></g>
<path d="M23.2 168.9 H29.4" stroke="#3f3f3f" stroke-width="1.7"/><path d="M28.4 165.6 L32.2 168.9 L28.4 172.2 Z" fill="#3f3f3f"/>
</svg></div>
<div id="right"></div>
<div id="hdr"><div class="hc" style="left:401px;width:79px"><svg class="ic" style="left:27px;top:2px" width="17" height="17"><use href="#mag"/></svg></div><div class="hc" style="left:481px;width:83px"><span style="transform:scaleX(0.9796)">Symbol(s)</span></div><div class="hc" style="left:565px;width:34px"><span style="transform:scaleX(1.0895)">Item</span></div><div class="hc" style="left:600px;width:83px"><span style="transform:scaleX(1.0252)">Parts No.</span></div><div class="hc" style="left:684px;width:34px"><span style="transform:scaleX(1.0453)">Qty.</span></div><div class="hc" style="left:719px;width:83px"><span style="transform:scaleX(1.0515)">Latest Part No.</span></div><div class="hc" style="left:803px;width:135px"><span style="transform:scaleX(1.1193)">Description</span></div><div class="hc" style="left:939px;width:69px"><span style="transform:scaleX(1.1193)">Cut Out</span></div><div class="hc" style="left:1009px;width:69px"><span style="transform:scaleX(1.0714)">Cut In</span></div><div class="hc" style="left:1079px;width:128px"><span style="transform:scaleX(1.0480)">Comment</span></div></div>
<div class="row" style="top:41px"><div class="c" style="left:0px;width:79px"><svg class="ic" style="left:5.8px;top:3.8px" width="11" height="11"><use href="#gear"/></svg><svg class="ic" style="left:22px;top:2px" width="15" height="15"><use href="#info"/></svg></div><div class="c" style="left:80px;width:83px"></div><div class="c" style="left:164px;width:34px"><span>2</span></div><div class="c" style="left:199px;width:83px"></div><div class="c" style="left:283px;width:34px"><span style="transform:scaleX(0.9500)">1</span></div><div class="c" style="left:318px;width:83px"></div><div class="c" style="left:402px;width:135px"><span style="transform:scaleX(0.9314)">CYLINDER HEAD</span></div><div class="c" style="left:538px;width:69px"></div><div class="c" style="left:608px;width:69px"></div><div class="c" style="left:678px;width:128px"></div></div>
<div class="row" style="top:61px"><div class="c" style="left:0px;width:79px"><svg class="ic" style="left:5.8px;top:3.8px" width="11" height="11"><use href="#gear"/></svg><svg class="ic" style="left:20.9px;top:0.6px" width="17" height="15"><use href="#cart"/></svg><svg class="ic" style="left:40px;top:2px" width="15" height="15"><use href="#info"/></svg></div><div class="c" style="left:80px;width:83px"></div><div class="c" style="left:164px;width:34px"><span>3</span></div><div class="c" style="left:199px;width:83px"><span style="transform:scaleX(0.9750)">1842147C1</span></div><div class="c" style="left:283px;width:34px"><span style="transform:scaleX(0.9500)">6</span></div><div class="c" style="left:318px;width:83px"><span style="transform:scaleX(0.9750)">1842147C1</span></div><div class="c" style="left:402px;width:135px"><span style="transform:scaleX(0.8537)">SLEEVE</span></div><div class="c" style="left:538px;width:69px"></div><div class="c" style="left:608px;width:69px"></div><div class="c" style="left:678px;width:128px"></div></div>
<div class="row" style="top:81px"><div class="c" style="left:0px;width:79px"><svg class="ic" style="left:5.8px;top:3.8px" width="11" height="11"><use href="#gear"/></svg><svg class="ic" style="left:20.9px;top:0.6px" width="17" height="15"><use href="#cart"/></svg><svg class="ic" style="left:40px;top:2px" width="15" height="15"><use href="#info"/></svg></div><div class="c" style="left:80px;width:83px"></div><div class="c" style="left:164px;width:34px"><span>4</span></div><div class="c" style="left:199px;width:83px"><span style="transform:scaleX(0.9750)">1841566C1</span></div><div class="c" style="left:283px;width:34px"><span style="transform:scaleX(0.9500)">48</span></div><div class="c" style="left:318px;width:83px"><span style="transform:scaleX(0.9750)">1841566C1</span></div><div class="c" style="left:402px;width:135px"><span style="transform:scaleX(0.7537)">KEY</span></div><div class="c" style="left:538px;width:69px"></div><div class="c" style="left:608px;width:69px"></div><div class="c" style="left:678px;width:128px"></div></div>
<div class="row" style="top:101px"><div class="c" style="left:0px;width:79px"><svg class="ic" style="left:5.8px;top:3.8px" width="11" height="11"><use href="#gear"/></svg><svg class="ic" style="left:20.9px;top:0.6px" width="17" height="15"><use href="#cart"/></svg><svg class="ic" style="left:40px;top:2px" width="15" height="15"><use href="#info"/></svg></div><div class="c" style="left:80px;width:83px"></div><div class="c" style="left:164px;width:34px"><span>5</span></div><div class="c" style="left:199px;width:83px"><span style="transform:scaleX(0.9750)">1835655C1</span></div><div class="c" style="left:283px;width:34px"><span style="transform:scaleX(0.9500)">24</span></div><div class="c" style="left:318px;width:83px"><span style="transform:scaleX(0.9750)">1835655C1</span></div><div class="c" style="left:402px;width:135px"><span style="transform:scaleX(1.0041)">ROTATOR</span></div><div class="c" style="left:538px;width:69px"></div><div class="c" style="left:608px;width:69px"></div><div class="c" style="left:678px;width:128px"></div></div>
<div class="row" style="top:121px"><div class="c" style="left:0px;width:79px"><svg class="ic" style="left:5.8px;top:3.8px" width="11" height="11"><use href="#gear"/></svg><svg class="ic" style="left:20.9px;top:0.6px" width="17" height="15"><use href="#cart"/></svg><svg class="ic" style="left:40px;top:2px" width="15" height="15"><use href="#info"/></svg></div><div class="c" style="left:80px;width:83px"></div><div class="c" style="left:164px;width:34px"><span>6</span></div><div class="c" style="left:199px;width:83px"><span style="transform:scaleX(0.9750)">1842146C1</span></div><div class="c" style="left:283px;width:34px"><span style="transform:scaleX(0.9500)">24</span></div><div class="c" style="left:318px;width:83px"><span style="transform:scaleX(0.9750)">1842146C1</span></div><div class="c" style="left:402px;width:135px"><span style="transform:scaleX(0.9474)">VALVE SPRING</span></div><div class="c" style="left:538px;width:69px"></div><div class="c" style="left:608px;width:69px"></div><div class="c" style="left:678px;width:128px"></div></div>
<div class="row" style="top:141px"><div class="c" style="left:0px;width:79px"><svg class="ic" style="left:5.8px;top:3.8px" width="11" height="11"><use href="#gear"/></svg><svg class="ic" style="left:20.9px;top:0.6px" width="17" height="15"><use href="#cart"/></svg><svg class="ic" style="left:40px;top:2px" width="15" height="15"><use href="#info"/></svg></div><div class="c" style="left:80px;width:83px"></div><div class="c" style="left:164px;width:34px"><span>7</span></div><div class="c" style="left:199px;width:83px"><span style="transform:scaleX(0.9750)">1889589C1</span></div><div class="c" style="left:283px;width:34px"><span style="transform:scaleX(0.9500)">24</span></div><div class="c" style="left:318px;width:83px"><span style="transform:scaleX(0.9750)">1889589C1</span></div><div class="c" style="left:402px;width:135px"><span style="transform:scaleX(0.9485)">SEAL - VALVE STEM</span></div><div class="c" style="left:538px;width:69px"></div><div class="c" style="left:608px;width:69px"></div><div class="c" style="left:678px;width:128px"></div></div>
<div class="row" style="top:161px"><div class="c" style="left:0px;width:79px"><svg class="ic" style="left:5.8px;top:3.8px" width="11" height="11"><use href="#gear"/></svg><svg class="ic" style="left:20.9px;top:0.6px" width="17" height="15"><use href="#cart"/></svg><svg class="ic" style="left:40px;top:2px" width="15" height="15"><use href="#info"/></svg></div><div class="c" style="left:80px;width:83px"></div><div class="c" style="left:164px;width:34px"><span>8</span></div><div class="c" style="left:199px;width:83px"><span style="transform:scaleX(0.9750)">1889268C1</span></div><div class="c" style="left:283px;width:34px"><span style="transform:scaleX(0.9500)">24</span></div><div class="c" style="left:318px;width:83px"><span style="transform:scaleX(0.9750)">1889268C1</span></div><div class="c" style="left:402px;width:135px"><span style="transform:scaleX(0.9754)">VALVE GUIDE</span></div><div class="c" style="left:538px;width:69px"></div><div class="c" style="left:608px;width:69px"></div><div class="c" style="left:678px;width:128px"></div></div>
<div class="row" style="top:181px"><div class="c" style="left:0px;width:79px"><svg class="ic" style="left:5.8px;top:3.8px" width="11" height="11"><use href="#gear"/></svg><svg class="ic" style="left:20.9px;top:0.6px" width="17" height="15"><use href="#cart"/></svg><svg class="ic" style="left:40px;top:2px" width="15" height="15"><use href="#info"/></svg></div><div class="c" style="left:80px;width:83px"><svg class="ic" style="left:3.4px;top:0.4px" width="16" height="16"><use href="#bub"/></svg></div><div class="c" style="left:164px;width:34px"><span>9</span></div><div class="c" style="left:199px;width:83px"><span style="transform:scaleX(0.9750)">1842137C1</span></div><div class="c" style="left:283px;width:34px"><span style="transform:scaleX(0.9500)">12</span></div><div class="c" style="left:318px;width:83px"><span style="transform:scaleX(0.9750)">1842137C1</span></div><div class="c" style="left:402px;width:135px"><span style="transform:scaleX(0.9404)">VALVE SEAT INSERT</span></div><div class="c" style="left:538px;width:69px"></div><div class="c" style="left:608px;width:69px"></div><div class="c" style="left:678px;width:128px"><span style="transform:scaleX(0.8900)">INLET</span></div></div>
<div class="row" style="top:201px"><div class="c" style="left:0px;width:79px"><svg class="ic" style="left:5.8px;top:3.8px" width="11" height="11"><use href="#gear"/></svg><svg class="ic" style="left:20.9px;top:0.6px" width="17" height="15"><use href="#cart"/></svg><svg class="ic" style="left:40px;top:2px" width="15" height="15"><use href="#info"/></svg></div><div class="c" style="left:80px;width:83px"></div><div class="c" style="left:164px;width:34px"><span>10</span></div><div class="c" style="left:199px;width:83px"><span style="transform:scaleX(0.9750)">1839968C1</span></div><div class="c" style="left:283px;width:34px"><span style="transform:scaleX(0.9500)">12</span></div><div class="c" style="left:318px;width:83px"><span style="transform:scaleX(0.9750)">1839968C1</span></div><div class="c" style="left:402px;width:135px"><span style="transform:scaleX(0.9507)">INTAKE VALVE</span></div><div class="c" style="left:538px;width:69px"></div><div class="c" style="left:608px;width:69px"></div><div class="c" style="left:678px;width:128px"></div></div>
<div class="row" style="top:221px"><div class="c" style="left:0px;width:79px"><svg class="ic" style="left:5.8px;top:3.8px" width="11" height="11"><use href="#gear"/></svg><svg class="ic" style="left:20.9px;top:0.6px" width="17" height="15"><use href="#cart"/></svg><svg class="ic" style="left:40px;top:2px" width="15" height="15"><use href="#sico"/></svg><svg class="ic" style="left:58px;top:2px" width="15" height="15"><use href="#info"/></svg></div><div class="c" style="left:80px;width:83px"><svg class="ic" style="left:3.4px;top:0.4px" width="16" height="16"><use href="#bub"/></svg></div><div class="c" style="left:164px;width:34px"><span>11</span></div><div class="c" style="left:199px;width:83px"><span style="transform:scaleX(0.9750)">1842138C1</span></div><div class="c" style="left:283px;width:34px"><span style="transform:scaleX(0.9500)">12</span></div><div class="c" style="left:318px;width:83px"><span style="transform:scaleX(0.9750)">1842138C1</span></div><div class="c" style="left:402px;width:135px"><span style="transform:scaleX(0.9218)">INSERT EXHAUST</span></div><div class="c" style="left:538px;width:69px"></div><div class="c" style="left:608px;width:69px"></div><div class="c" style="left:678px;width:128px"><span style="transform:scaleX(0.9081)">EXHAUST</span></div></div>
<div class="row sel" style="top:241px"><div class="c" style="left:0px;width:79px"><svg class="ic" style="left:5.8px;top:3.8px" width="11" height="11"><use href="#gear"/></svg><svg class="ic" style="left:20.9px;top:0.6px" width="17" height="15"><use href="#carts"/></svg><svg class="ic" style="left:40px;top:2px" width="15" height="15"><use href="#info"/></svg></div><div class="c" style="left:80px;width:83px"></div><div class="c" style="left:164px;width:34px"><span>12</span></div><div class="c" style="left:199px;width:83px"><span style="transform:scaleX(0.9750)">1842145C2</span></div><div class="c" style="left:283px;width:34px"><span style="transform:scaleX(0.9500)">12</span></div><div class="c" style="left:318px;width:83px"><span style="transform:scaleX(0.9750)">1842145C2</span></div><div class="c" style="left:402px;width:135px"><span style="transform:scaleX(0.9424)">EXHAUST VALVE</span></div><div class="c" style="left:538px;width:69px"></div><div class="c" style="left:608px;width:69px"></div><div class="c" style="left:678px;width:128px"></div></div>
<div class="row" style="top:261px"><div class="c" style="left:0px;width:79px"><svg class="ic" style="left:5.8px;top:3.8px" width="11" height="11"><use href="#gear"/></svg><svg class="ic" style="left:20.9px;top:0.6px" width="17" height="15"><use href="#cart"/></svg><svg class="ic" style="left:40px;top:2px" width="15" height="15"><use href="#info"/></svg></div><div class="c" style="left:80px;width:83px"></div><div class="c" style="left:164px;width:34px"><span>13</span></div><div class="c" style="left:199px;width:83px"><span style="transform:scaleX(0.9750)">1841095C1</span></div><div class="c" style="left:283px;width:34px"><span style="transform:scaleX(0.9500)">6</span></div><div class="c" style="left:318px;width:83px"><span style="transform:scaleX(0.9750)">1841095C1</span></div><div class="c" style="left:402px;width:135px"><span style="transform:scaleX(0.8537)">SLEEVE</span></div><div class="c" style="left:538px;width:69px"></div><div class="c" style="left:608px;width:69px"></div><div class="c" style="left:678px;width:128px"></div></div>
<div class="row" style="top:281px"><div class="c" style="left:0px;width:79px"><svg class="ic" style="left:5.8px;top:3.8px" width="11" height="11"><use href="#gear"/></svg><svg class="ic" style="left:20.9px;top:0.6px" width="17" height="15"><use href="#cart"/></svg><svg class="ic" style="left:40px;top:2px" width="15" height="15"><use href="#info"/></svg></div><div class="c" style="left:80px;width:83px"></div><div class="c" style="left:164px;width:34px"><span>14</span></div><div class="c" style="left:199px;width:83px"><span style="transform:scaleX(0.9750)">1880145C1</span></div><div class="c" style="left:283px;width:34px"><span style="transform:scaleX(0.9500)">24</span></div><div class="c" style="left:318px;width:83px"><span style="transform:scaleX(0.9750)">1880145C1</span></div><div class="c" style="left:402px;width:135px"><span style="transform:scaleX(0.9045)">PLUG</span></div><div class="c" style="left:538px;width:69px"></div><div class="c" style="left:608px;width:69px"></div><div class="c" style="left:678px;width:128px"></div></div>
<div class="row" style="top:301px"><div class="c" style="left:0px;width:79px"><svg class="ic" style="left:5.8px;top:3.8px" width="11" height="11"><use href="#gear"/></svg><svg class="ic" style="left:20.9px;top:0.6px" width="17" height="15"><use href="#cart"/></svg><svg class="ic" style="left:40px;top:2px" width="15" height="15"><use href="#info"/></svg></div><div class="c" style="left:80px;width:83px"></div><div class="c" style="left:164px;width:34px"><span>15</span></div><div class="c" style="left:199px;width:83px"><span style="transform:scaleX(0.9750)">1817812C1</span></div><div class="c" style="left:283px;width:34px"><span style="transform:scaleX(0.9500)">1</span></div><div class="c" style="left:318px;width:83px"><span style="transform:scaleX(0.9750)">1817812C1</span></div><div class="c" style="left:402px;width:135px"><span style="transform:scaleX(0.9367)">METRIC BOLT</span></div><div class="c" style="left:538px;width:69px"></div><div class="c" style="left:608px;width:69px"></div><div class="c" style="left:678px;width:128px"></div></div>
<div class="row" style="top:321px"><div class="c" style="left:0px;width:79px"><svg class="ic" style="left:3px;top:1px" width="16" height="16"><use href="#gear2"/></svg><svg class="ic" style="left:20.9px;top:0.6px" width="17" height="15"><use href="#cart"/></svg><svg class="ic" style="left:40px;top:2px" width="15" height="15"><use href="#info"/></svg></div><div class="c" style="left:80px;width:83px"></div><div class="c" style="left:164px;width:34px"><span>16</span></div><div class="c" style="left:199px;width:83px"><span style="transform:scaleX(0.9750)">1888287C91</span></div><div class="c" style="left:283px;width:34px"><span style="transform:scaleX(0.9500)">1</span></div><div class="c" style="left:318px;width:83px"><span style="transform:scaleX(0.9750)">1888287C91</span></div><div class="c" style="left:402px;width:135px"><span style="transform:scaleX(0.9045)">PLUG</span></div><div class="c" style="left:538px;width:69px"></div><div class="c" style="left:608px;width:69px"></div><div class="c" style="left:678px;width:128px"></div></div>
<svg id="logo" width="47" height="55" viewBox="1160 562 47 55" style="position:absolute;left:1160px;top:562px;overflow:visible">
<g fill="none" stroke="#15569e" stroke-width="2.8">
<circle cx="1175.7" cy="576.7" r="6.35"/><circle cx="1192.2" cy="576.7" r="6.35"/><circle cx="1175.7" cy="594.1" r="6.35"/><circle cx="1192.2" cy="594.1" r="6.35"/>
<g stroke-width="2.5"><path d="M1171.4 581.6 L1180 571.8"/><path d="M1187.9 571.8 L1196.5 581.6"/><path d="M1171.4 589.2 L1180 599"/><path d="M1187.9 599 L1196.5 589.2"/></g>
</g>
<g fill="#15569e">
<path d="M1183.95 568.2 L1185.5 573.5 L1183.95 581.4 L1182.4 573.5 Z"/>
<path d="M1183.95 602.6 L1185.5 597.3 L1183.95 589.4 L1182.4 597.3 Z"/>
<path d="M1167.2 585.4 L1172.5 583.9 L1179.6 585.4 L1172.5 586.9 Z"/>
<path d="M1200.7 585.4 L1195.4 583.9 L1188.3 585.4 L1195.4 586.9 Z"/>
</g>
<text x="1167.2" y="614.3" font-family="Liberation Sans, sans-serif" font-weight="bold" font-size="10.1" letter-spacing="-0.25" fill="#15569e">Perkins</text>
<text x="1202.4" y="609.5" font-family="Liberation Sans, sans-serif" font-size="3" fill="#15569e">®</text>
</svg>
</body></html>
